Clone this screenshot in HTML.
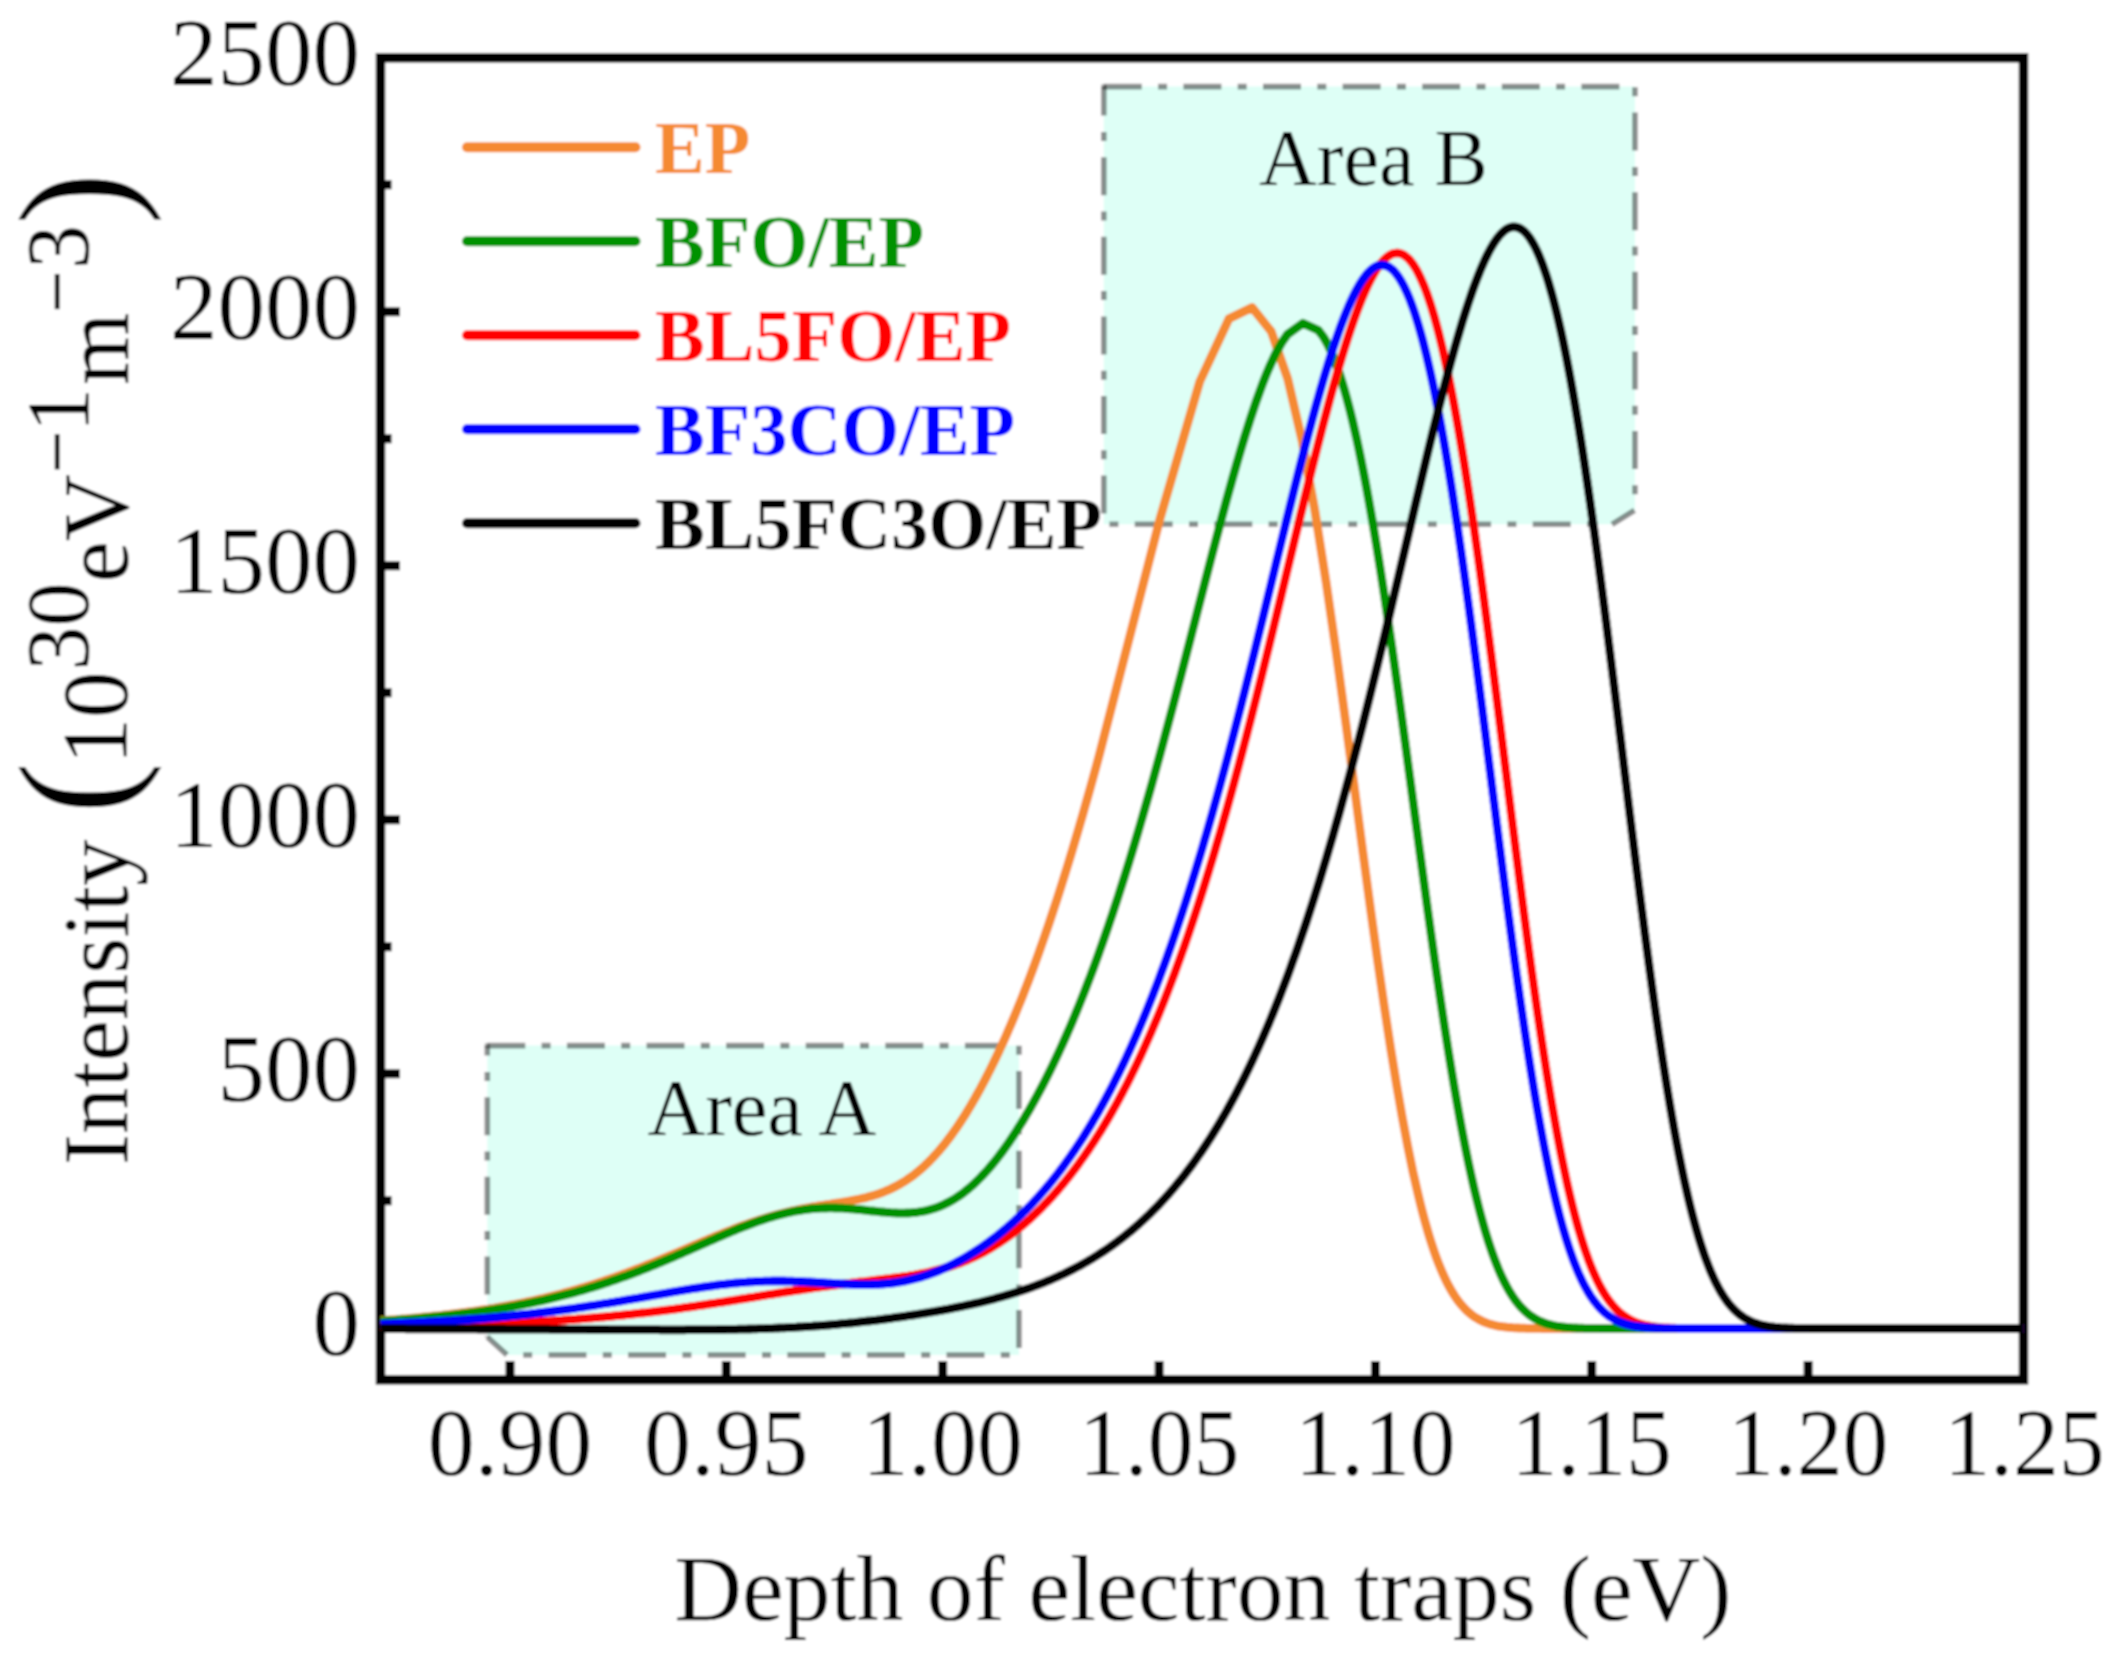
<!DOCTYPE html>
<html><head><meta charset="utf-8"><title>Trap distribution</title>
<style>
html,body{margin:0;padding:0;background:#fff;}
body{width:2120px;height:1660px;overflow:hidden;}
svg{display:block;}
text{font-family:"Liberation Serif","DejaVu Serif",serif;fill:#000;}
.tick{font-size:95px;}
.leg{font-size:74.5px;font-weight:bold;}
.area{font-size:80px;}
</style></head><body>
<svg width="2120" height="1660" viewBox="0 0 2120 1660">
<rect width="2120" height="1660" fill="#fff"/>
<defs><filter id="soft" x="0" y="0" width="2120" height="1660" filterUnits="userSpaceOnUse"><feGaussianBlur stdDeviation="0.8"/></filter><clipPath id="cp"><rect x="380.5" y="57.8" width="1643.0" height="1322.0"/></clipPath></defs>
<g filter="url(#soft)">
<rect width="2120" height="1660" fill="#fff"/>

<path d="M1103.8 86.6 H1635 V510 L1612 524.3 H1103.8 Z" fill="#DEFFF6"/>
<path d="M1103.8 86.6 H1635 V510 L1612 524.3" fill="none" stroke="#000" stroke-opacity="0.44" stroke-width="5.6" stroke-dasharray="38 16.3 9 16.3"/>
<path d="M1103.8 86.6 V524.3 H1612" fill="none" stroke="#000" stroke-opacity="0.44" stroke-width="5.6" stroke-dasharray="38 16.3 9 16.3" stroke-dashoffset="9"/>
<rect x="1101.3" y="84.1" width="5" height="5" fill="#000" fill-opacity="0.3"/>
<rect x="484.8" y="1043.1" width="5" height="5" fill="#000" fill-opacity="0.3"/>
<path d="M487.3 1045.6 H1019 V1355 H507 L487.3 1337 Z" fill="#DEFFF6"/>
<path d="M487.3 1045.6 H1019 V1355 H507 L487.3 1337" fill="none" stroke="#000" stroke-opacity="0.44" stroke-width="5.6" stroke-dasharray="38 16.3 9 16.3"/>
<path d="M487.3 1045.6 V1337" fill="none" stroke="#000" stroke-opacity="0.44" stroke-width="5.6" stroke-dasharray="38 16.3 9 16.3" stroke-dashoffset="28"/>
<text class="area" x="1259" y="185.3">Area B</text>
<text class="area" x="647.4" y="1135.4">Area A</text>
<rect x="380.5" y="57.8" width="1643.0" height="1322.0" fill="none" stroke="#000" stroke-width="9.5"/>
<path d="M380.5 1327.8 H400 M380.5 1073.8 H400 M380.5 819.8 H400 M380.5 565.8 H400 M380.5 311.8 H400 M380.5 1200.8 H391.5 M380.5 946.8 H391.5 M380.5 692.8 H391.5 M380.5 438.8 H391.5 M380.5 184.8 H391.5 M510.0 1379.8 V1361 M726.3 1379.8 V1361 M942.7 1379.8 V1361 M1159.1 1379.8 V1361 M1375.4 1379.8 V1361 M1591.7 1379.8 V1361 M1808.1 1379.8 V1361" stroke="#000" stroke-width="9" fill="none"/>
<g clip-path="url(#cp)" fill="none" stroke-width="8.8" stroke-linejoin="round">
<path d="M374.5 1321.0 L376.5 1320.9 L378.5 1320.8 L380.5 1320.6 L382.5 1320.5 L384.5 1320.4 L386.5 1320.2 L388.5 1320.1 L390.5 1319.9 L392.5 1319.8 L394.5 1319.6 L396.5 1319.5 L398.5 1319.3 L400.5 1319.2 L402.5 1319.0 L404.5 1318.8 L406.5 1318.7 L408.5 1318.5 L410.5 1318.3 L412.5 1318.1 L414.5 1318.0 L416.5 1317.8 L418.5 1317.6 L420.5 1317.4 L422.5 1317.2 L424.5 1317.0 L426.5 1316.8 L428.5 1316.6 L430.5 1316.4 L432.5 1316.2 L434.5 1316.0 L436.5 1315.8 L438.5 1315.6 L440.5 1315.4 L442.5 1315.2 L444.5 1314.9 L446.5 1314.7 L448.5 1314.5 L450.5 1314.2 L452.5 1314.0 L454.5 1313.7 L456.5 1313.5 L458.5 1313.2 L460.5 1313.0 L462.5 1312.7 L464.5 1312.5 L466.5 1312.2 L468.5 1311.9 L470.5 1311.6 L472.5 1311.4 L474.5 1311.1 L476.5 1310.8 L478.5 1310.5 L480.5 1310.2 L482.5 1309.9 L484.5 1309.6 L486.5 1309.3 L488.5 1309.0 L490.5 1308.6 L492.5 1308.3 L494.5 1308.0 L496.5 1307.6 L498.5 1307.3 L500.5 1306.9 L502.5 1306.6 L504.5 1306.2 L506.5 1305.9 L508.5 1305.5 L510.5 1305.1 L512.5 1304.7 L514.5 1304.4 L516.5 1304.0 L518.5 1303.6 L520.5 1303.2 L522.5 1302.8 L524.5 1302.4 L526.5 1301.9 L528.5 1301.5 L530.5 1301.1 L532.5 1300.7 L534.5 1300.2 L536.5 1299.8 L538.5 1299.3 L540.5 1298.9 L542.5 1298.4 L544.5 1297.9 L546.5 1297.4 L548.5 1296.9 L550.5 1296.5 L552.5 1296.0 L554.5 1295.5 L556.5 1294.9 L558.5 1294.4 L560.5 1293.9 L562.5 1293.4 L564.5 1292.8 L566.5 1292.3 L568.5 1291.7 L570.5 1291.2 L572.5 1290.6 L574.5 1290.1 L576.5 1289.5 L578.5 1288.9 L580.5 1288.3 L582.5 1287.7 L584.5 1287.1 L586.5 1286.5 L588.5 1285.9 L590.5 1285.3 L592.5 1284.6 L594.5 1284.0 L596.5 1283.3 L598.5 1282.7 L600.5 1282.0 L602.5 1281.4 L604.5 1280.7 L606.5 1280.0 L608.5 1279.3 L610.5 1278.7 L612.5 1278.0 L614.5 1277.3 L616.5 1276.5 L618.5 1275.8 L620.5 1275.1 L622.5 1274.4 L624.5 1273.6 L626.5 1272.9 L628.5 1272.2 L630.5 1271.4 L632.5 1270.7 L634.5 1269.9 L636.5 1269.1 L638.5 1268.3 L640.5 1267.6 L642.5 1266.8 L644.5 1266.0 L646.5 1265.2 L648.5 1264.4 L650.5 1263.6 L652.5 1262.8 L654.5 1262.0 L656.5 1261.2 L658.5 1260.3 L660.5 1259.5 L662.5 1258.7 L664.5 1257.8 L666.5 1257.0 L668.5 1256.2 L670.5 1255.3 L672.5 1254.5 L674.5 1253.7 L676.5 1252.8 L678.5 1252.0 L680.5 1251.1 L682.5 1250.3 L684.5 1249.4 L686.5 1248.6 L688.5 1247.7 L690.5 1246.8 L692.5 1246.0 L694.5 1245.1 L696.5 1244.3 L698.5 1243.4 L700.5 1242.6 L702.5 1241.7 L704.5 1240.9 L706.5 1240.1 L708.5 1239.2 L710.5 1238.4 L712.5 1237.5 L714.5 1236.7 L716.5 1235.9 L718.5 1235.1 L720.5 1234.3 L722.5 1233.4 L724.5 1232.6 L726.5 1231.8 L728.5 1231.0 L730.5 1230.3 L732.5 1229.5 L734.5 1228.7 L736.5 1227.9 L738.5 1227.2 L740.5 1226.4 L742.5 1225.7 L744.5 1225.0 L746.5 1224.3 L748.5 1223.5 L750.5 1222.8 L752.5 1222.2 L754.5 1221.5 L756.5 1220.8 L758.5 1220.2 L760.5 1219.5 L762.5 1218.9 L764.5 1218.3 L766.5 1217.6 L768.5 1217.0 L770.5 1216.5 L772.5 1215.9 L774.5 1215.3 L776.5 1214.8 L778.5 1214.2 L780.5 1213.7 L782.5 1213.2 L784.5 1212.7 L786.5 1212.2 L788.5 1211.7 L790.5 1211.3 L792.5 1210.8 L794.5 1210.4 L796.5 1210.0 L798.5 1209.5 L800.5 1209.1 L802.5 1208.7 L804.5 1208.4 L806.5 1208.0 L808.5 1207.6 L810.5 1207.3 L812.5 1206.9 L814.5 1206.6 L816.5 1206.3 L818.5 1205.9 L820.5 1205.6 L822.5 1205.3 L824.5 1205.0 L826.5 1204.7 L828.5 1204.4 L830.5 1204.1 L832.5 1203.7 L834.5 1203.4 L836.5 1203.1 L838.5 1202.8 L840.5 1202.5 L842.5 1202.2 L844.5 1201.8 L846.5 1201.5 L848.5 1201.2 L850.5 1200.8 L852.5 1200.4 L854.5 1200.0 L856.5 1199.6 L858.5 1199.2 L860.5 1198.8 L862.5 1198.3 L864.5 1197.9 L866.5 1197.4 L868.5 1196.8 L870.5 1196.3 L872.5 1195.7 L874.5 1195.1 L876.5 1194.5 L878.5 1193.8 L880.5 1193.1 L882.5 1192.3 L884.5 1191.6 L886.5 1190.7 L888.5 1189.9 L890.5 1189.0 L892.5 1188.0 L894.5 1187.0 L896.5 1186.0 L898.5 1184.9 L900.5 1183.8 L902.5 1182.6 L904.5 1181.4 L906.5 1180.1 L908.5 1178.7 L910.5 1177.3 L912.5 1175.9 L914.5 1174.4 L916.5 1172.8 L918.5 1171.1 L920.5 1169.5 L922.5 1167.7 L924.5 1165.9 L926.5 1164.0 L928.5 1162.1 L930.5 1160.0 L932.5 1158.0 L934.5 1155.8 L936.5 1153.6 L938.5 1151.4 L940.5 1149.0 L942.5 1146.6 L944.5 1144.2 L946.5 1141.6 L948.5 1139.0 L950.5 1136.3 L952.5 1133.6 L954.5 1130.8 L956.5 1127.9 L958.5 1125.0 L960.5 1122.0 L962.5 1118.9 L964.5 1115.8 L966.5 1112.6 L968.5 1109.3 L970.5 1106.0 L972.5 1102.6 L974.5 1099.1 L976.5 1095.5 L978.5 1091.9 L980.5 1088.3 L982.5 1084.5 L984.5 1080.7 L986.5 1076.9 L988.5 1072.9 L990.5 1069.0 L992.5 1064.9 L994.5 1060.8 L996.5 1056.6 L998.5 1052.3 L1000.5 1048.0 L1002.5 1043.6 L1004.5 1039.2 L1006.5 1034.7 L1008.5 1030.1 L1010.5 1025.5 L1012.5 1020.7 L1014.5 1016.0 L1016.5 1011.1 L1018.5 1006.2 L1020.5 1001.3 L1022.5 996.3 L1024.5 991.2 L1026.5 986.0 L1028.5 980.8 L1030.5 975.5 L1032.5 970.1 L1034.5 964.7 L1036.5 959.2 L1038.5 953.7 L1040.5 948.1 L1042.5 942.4 L1044.5 936.6 L1046.5 930.8 L1048.5 925.0 L1050.5 919.0 L1052.5 913.0 L1054.5 906.9 L1056.5 900.8 L1058.5 894.6 L1060.5 888.4 L1062.5 882.0 L1064.5 875.6 L1066.5 869.2 L1068.5 862.7 L1070.5 856.1 L1072.5 849.5 L1074.5 842.8 L1076.5 836.0 L1078.5 829.2 L1080.5 822.3 L1082.5 815.4 L1084.5 808.4 L1086.5 801.3 L1088.5 794.2 L1090.5 787.1 L1092.5 779.9 L1094.5 772.6 L1096.5 765.3 L1098.5 757.9 L1099.5 754.1 L1160.4 517.2 L1199.8 381.5 L1228.9 318.8 L1252.1 307.5 L1271.3 331.6 L1287.7 378.8 L1302.0 440.3 L1314.7 509.5 L1326.1 582.0 L1336.5 654.3 L1346.0 724.3 L1354.8 790.5 L1362.9 852.2 L1370.5 908.8 L1377.6 960.3 L1384.3 1006.6 L1390.6 1048.0 L1396.6 1084.9 L1402.3 1117.4 L1407.7 1146.1 L1412.8 1171.2 L1417.8 1193.1 L1420.5 1204.3 L1422.5 1212.2 L1424.5 1219.7 L1426.5 1226.8 L1428.5 1233.7 L1430.5 1240.2 L1432.5 1246.4 L1434.5 1252.3 L1436.5 1257.9 L1438.5 1263.2 L1440.5 1268.2 L1442.5 1272.9 L1444.5 1277.3 L1446.5 1281.5 L1448.5 1285.4 L1450.5 1289.0 L1452.5 1292.4 L1454.5 1295.6 L1456.5 1298.6 L1458.5 1301.3 L1460.5 1303.9 L1462.5 1306.2 L1464.5 1308.4 L1466.5 1310.4 L1468.5 1312.2 L1470.5 1313.9 L1472.5 1315.5 L1474.5 1316.9 L1476.5 1318.1 L1478.5 1319.3 L1480.5 1320.3 L1482.5 1321.3 L1484.5 1322.1 L1486.5 1322.9 L1488.5 1323.6 L1490.5 1324.2 L1492.5 1324.8 L1494.5 1325.2 L1496.5 1325.7 L1498.5 1326.1 L1500.5 1326.4 L1502.5 1326.7 L1504.5 1326.9 L1506.5 1327.2 L1508.5 1327.4 L1510.5 1327.5 L1512.5 1327.7 L1514.5 1327.8 L1516.5 1327.9 L1518.5 1328.0 L1520.5 1328.1 L1522.5 1328.2 L1524.5 1328.2 L1526.5 1328.3 L1528.5 1328.3 L1530.5 1328.3 L1532.5 1328.4 L1534.5 1328.4 L1536.5 1328.4 L1538.5 1328.4 L1540.5 1328.4 L1542.5 1328.5 L1544.5 1328.5 L1546.5 1328.5 L1548.5 1328.5 L1550.5 1328.5 L1552.5 1328.5 L1554.5 1328.5 L1556.5 1328.5 L1558.5 1328.5 L1560.5 1328.5 L1562.5 1328.5 L1564.5 1328.5 L1566.5 1328.5 L1568.5 1328.5 L1570.5 1328.5 L1572.5 1328.5 L1574.5 1328.5 L1576.5 1328.5 L1578.5 1328.5 L1580.5 1328.5 L1582.5 1328.5 L1584.5 1328.5 L1586.5 1328.5 L1588.5 1328.5 L1590.5 1328.5 L1592.5 1328.5 L1594.5 1328.5 L1596.5 1328.5 L1598.5 1328.5 L1600.5 1328.5 L1602.5 1328.5 L1604.5 1328.5 L1606.5 1328.5 L1608.5 1328.5 L1610.5 1328.5 L1612.5 1328.5 L1614.5 1328.5 L1616.5 1328.5 L1618.5 1328.5 L1620.5 1328.5 L1622.5 1328.5 L1624.5 1328.5 L1626.5 1328.5 L1628.5 1328.5 L1630.5 1328.5 L1632.5 1328.5 L1634.5 1328.5 L1636.5 1328.5 L1638.5 1328.5 L1640.5 1328.5 L1642.5 1328.5 L1644.5 1328.5 L1646.5 1328.5 L1648.5 1328.5 L1650.5 1328.5 L1652.5 1328.5 L1654.5 1328.5 L1656.5 1328.5 L1658.5 1328.5 L1660.5 1328.5 L1662.5 1328.5 L1664.5 1328.5 L1666.5 1328.5 L1668.5 1328.5 L1670.5 1328.5 L1672.5 1328.5 L1674.5 1328.5 L1676.5 1328.5 L1678.5 1328.5 L1680.5 1328.5 L1682.5 1328.5 L1684.5 1328.5 L1686.5 1328.5 L1688.5 1328.5 L1690.5 1328.5 L1692.5 1328.5 L1694.5 1328.5 L1696.5 1328.5 L1698.5 1328.5 L1700.5 1328.5 L1702.5 1328.5 L1704.5 1328.5 L1706.5 1328.5 L1708.5 1328.5 L1710.5 1328.5 L1712.5 1328.5 L1714.5 1328.5 L1716.5 1328.5 L1718.5 1328.5 L1720.5 1328.5 L1722.5 1328.5 L1724.5 1328.5 L1726.5 1328.5 L1728.5 1328.5 L1730.5 1328.5 L1732.5 1328.5 L1734.5 1328.5 L1736.5 1328.5 L1738.5 1328.5 L1740.5 1328.5 L1742.5 1328.5 L1744.5 1328.5 L1746.5 1328.5 L1748.5 1328.5 L1750.5 1328.5 L1752.5 1328.5 L1754.5 1328.5 L1756.5 1328.5 L1758.5 1328.5 L1760.5 1328.5 L1762.5 1328.5 L1764.5 1328.5 L1766.5 1328.5 L1768.5 1328.5 L1770.5 1328.5 L1772.5 1328.5 L1774.5 1328.5 L1776.5 1328.5 L1778.5 1328.5 L1780.5 1328.5 L1782.5 1328.5 L1784.5 1328.5 L1786.5 1328.5 L1788.5 1328.5 L1790.5 1328.5 L1792.5 1328.5 L1794.5 1328.5 L1796.5 1328.5 L1798.5 1328.5 L1800.5 1328.5 L1802.5 1328.5 L1804.5 1328.5 L1806.5 1328.5 L1808.5 1328.5 L1810.5 1328.5 L1812.5 1328.5 L1814.5 1328.5 L1816.5 1328.5 L1818.5 1328.5 L1820.5 1328.5 L1822.5 1328.5 L1824.5 1328.5 L1826.5 1328.5 L1828.5 1328.5 L1830.5 1328.5 L1832.5 1328.5 L1834.5 1328.5 L1836.5 1328.5 L1838.5 1328.5 L1840.5 1328.5 L1842.5 1328.5 L1844.5 1328.5 L1846.5 1328.5 L1848.5 1328.5 L1850.5 1328.5 L1852.5 1328.5 L1854.5 1328.5 L1856.5 1328.5 L1858.5 1328.5 L1860.5 1328.5 L1862.5 1328.5 L1864.5 1328.5 L1866.5 1328.5 L1868.5 1328.5 L1870.5 1328.5 L1872.5 1328.5 L1874.5 1328.5 L1876.5 1328.5 L1878.5 1328.5 L1880.5 1328.5 L1882.5 1328.5 L1884.5 1328.5 L1886.5 1328.5 L1888.5 1328.5 L1890.5 1328.5 L1892.5 1328.5 L1894.5 1328.5 L1896.5 1328.5 L1898.5 1328.5 L1900.5 1328.5 L1902.5 1328.5 L1904.5 1328.5 L1906.5 1328.5 L1908.5 1328.5 L1910.5 1328.5 L1912.5 1328.5 L1914.5 1328.5 L1916.5 1328.5 L1918.5 1328.5 L1920.5 1328.5 L1922.5 1328.5 L1924.5 1328.5 L1926.5 1328.5 L1928.5 1328.5 L1930.5 1328.5 L1932.5 1328.5 L1934.5 1328.5 L1936.5 1328.5 L1938.5 1328.5 L1940.5 1328.5 L1942.5 1328.5 L1944.5 1328.5 L1946.5 1328.5 L1948.5 1328.5 L1950.5 1328.5 L1952.5 1328.5 L1954.5 1328.5 L1956.5 1328.5 L1958.5 1328.5 L1960.5 1328.5 L1962.5 1328.5 L1964.5 1328.5 L1966.5 1328.5 L1968.5 1328.5 L1970.5 1328.5 L1972.5 1328.5 L1974.5 1328.5 L1976.5 1328.5 L1978.5 1328.5 L1980.5 1328.5 L1982.5 1328.5 L1984.5 1328.5 L1986.5 1328.5 L1988.5 1328.5 L1990.5 1328.5 L1992.5 1328.5 L1994.5 1328.5 L1996.5 1328.5 L1998.5 1328.5 L2000.5 1328.5 L2002.5 1328.5 L2004.5 1328.5 L2006.5 1328.5 L2008.5 1328.5 L2010.5 1328.5 L2012.5 1328.5 L2014.5 1328.5 L2016.5 1328.5 L2018.5 1328.5 L2020.5 1328.5 L2022.5 1328.5 L2024.5 1328.5 L2026.5 1328.5 L2028.5 1328.5 L2030.5 1328.5" stroke="#F58A30"/>
<path d="M374.5 1321.6 L376.5 1321.5 L378.5 1321.4 L380.5 1321.2 L382.5 1321.1 L384.5 1321.0 L386.5 1320.9 L388.5 1320.7 L390.5 1320.6 L392.5 1320.5 L394.5 1320.3 L396.5 1320.2 L398.5 1320.0 L400.5 1319.9 L402.5 1319.7 L404.5 1319.6 L406.5 1319.4 L408.5 1319.3 L410.5 1319.1 L412.5 1319.0 L414.5 1318.8 L416.5 1318.6 L418.5 1318.5 L420.5 1318.3 L422.5 1318.1 L424.5 1317.9 L426.5 1317.7 L428.5 1317.6 L430.5 1317.4 L432.5 1317.2 L434.5 1317.0 L436.5 1316.8 L438.5 1316.6 L440.5 1316.4 L442.5 1316.2 L444.5 1316.0 L446.5 1315.8 L448.5 1315.5 L450.5 1315.3 L452.5 1315.1 L454.5 1314.9 L456.5 1314.6 L458.5 1314.4 L460.5 1314.2 L462.5 1313.9 L464.5 1313.7 L466.5 1313.4 L468.5 1313.2 L470.5 1312.9 L472.5 1312.6 L474.5 1312.4 L476.5 1312.1 L478.5 1311.8 L480.5 1311.5 L482.5 1311.3 L484.5 1311.0 L486.5 1310.7 L488.5 1310.4 L490.5 1310.1 L492.5 1309.8 L494.5 1309.5 L496.5 1309.1 L498.5 1308.8 L500.5 1308.5 L502.5 1308.2 L504.5 1307.8 L506.5 1307.5 L508.5 1307.1 L510.5 1306.8 L512.5 1306.4 L514.5 1306.1 L516.5 1305.7 L518.5 1305.3 L520.5 1304.9 L522.5 1304.6 L524.5 1304.2 L526.5 1303.8 L528.5 1303.4 L530.5 1303.0 L532.5 1302.6 L534.5 1302.1 L536.5 1301.7 L538.5 1301.3 L540.5 1300.9 L542.5 1300.4 L544.5 1300.0 L546.5 1299.5 L548.5 1299.0 L550.5 1298.6 L552.5 1298.1 L554.5 1297.6 L556.5 1297.1 L558.5 1296.6 L560.5 1296.1 L562.5 1295.6 L564.5 1295.1 L566.5 1294.6 L568.5 1294.1 L570.5 1293.5 L572.5 1293.0 L574.5 1292.5 L576.5 1291.9 L578.5 1291.3 L580.5 1290.8 L582.5 1290.2 L584.5 1289.6 L586.5 1289.0 L588.5 1288.4 L590.5 1287.8 L592.5 1287.2 L594.5 1286.6 L596.5 1286.0 L598.5 1285.3 L600.5 1284.7 L602.5 1284.1 L604.5 1283.4 L606.5 1282.8 L608.5 1282.1 L610.5 1281.4 L612.5 1280.7 L614.5 1280.0 L616.5 1279.3 L618.5 1278.6 L620.5 1277.9 L622.5 1277.2 L624.5 1276.5 L626.5 1275.8 L628.5 1275.0 L630.5 1274.3 L632.5 1273.5 L634.5 1272.8 L636.5 1272.0 L638.5 1271.3 L640.5 1270.5 L642.5 1269.7 L644.5 1268.9 L646.5 1268.1 L648.5 1267.3 L650.5 1266.5 L652.5 1265.7 L654.5 1264.9 L656.5 1264.1 L658.5 1263.2 L660.5 1262.4 L662.5 1261.6 L664.5 1260.7 L666.5 1259.9 L668.5 1259.0 L670.5 1258.2 L672.5 1257.3 L674.5 1256.5 L676.5 1255.6 L678.5 1254.7 L680.5 1253.9 L682.5 1253.0 L684.5 1252.1 L686.5 1251.2 L688.5 1250.3 L690.5 1249.5 L692.5 1248.6 L694.5 1247.7 L696.5 1246.8 L698.5 1245.9 L700.5 1245.0 L702.5 1244.2 L704.5 1243.3 L706.5 1242.4 L708.5 1241.5 L710.5 1240.6 L712.5 1239.8 L714.5 1238.9 L716.5 1238.0 L718.5 1237.1 L720.5 1236.3 L722.5 1235.4 L724.5 1234.6 L726.5 1233.7 L728.5 1232.9 L730.5 1232.0 L732.5 1231.2 L734.5 1230.4 L736.5 1229.5 L738.5 1228.7 L740.5 1227.9 L742.5 1227.1 L744.5 1226.4 L746.5 1225.6 L748.5 1224.8 L750.5 1224.1 L752.5 1223.3 L754.5 1222.6 L756.5 1221.9 L758.5 1221.2 L760.5 1220.5 L762.5 1219.8 L764.5 1219.2 L766.5 1218.5 L768.5 1217.9 L770.5 1217.3 L772.5 1216.7 L774.5 1216.1 L776.5 1215.5 L778.5 1215.0 L780.5 1214.5 L782.5 1214.0 L784.5 1213.5 L786.5 1213.0 L788.5 1212.5 L790.5 1212.1 L792.5 1211.7 L794.5 1211.3 L796.5 1210.9 L798.5 1210.6 L800.5 1210.3 L802.5 1210.0 L804.5 1209.7 L806.5 1209.4 L808.5 1209.2 L810.5 1208.9 L812.5 1208.7 L814.5 1208.6 L816.5 1208.4 L818.5 1208.3 L820.5 1208.2 L822.5 1208.1 L824.5 1208.0 L826.5 1208.0 L828.5 1207.9 L830.5 1207.9 L832.5 1207.9 L834.5 1208.0 L836.5 1208.0 L838.5 1208.1 L840.5 1208.1 L842.5 1208.2 L844.5 1208.3 L846.5 1208.5 L848.5 1208.6 L850.5 1208.8 L852.5 1208.9 L854.5 1209.1 L856.5 1209.3 L858.5 1209.5 L860.5 1209.7 L862.5 1209.9 L864.5 1210.1 L866.5 1210.3 L868.5 1210.6 L870.5 1210.8 L872.5 1211.0 L874.5 1211.2 L876.5 1211.4 L878.5 1211.6 L880.5 1211.8 L882.5 1212.0 L884.5 1212.2 L886.5 1212.4 L888.5 1212.5 L890.5 1212.7 L892.5 1212.8 L894.5 1212.9 L896.5 1213.0 L898.5 1213.1 L900.5 1213.1 L902.5 1213.1 L904.5 1213.1 L906.5 1213.0 L908.5 1213.0 L910.5 1212.9 L912.5 1212.7 L914.5 1212.5 L916.5 1212.3 L918.5 1212.0 L920.5 1211.7 L922.5 1211.4 L924.5 1211.0 L926.5 1210.6 L928.5 1210.1 L930.5 1209.5 L932.5 1208.9 L934.5 1208.3 L936.5 1207.6 L938.5 1206.9 L940.5 1206.1 L942.5 1205.2 L944.5 1204.3 L946.5 1203.3 L948.5 1202.3 L950.5 1201.2 L952.5 1200.1 L954.5 1198.9 L956.5 1197.6 L958.5 1196.3 L960.5 1194.9 L962.5 1193.4 L964.5 1191.9 L966.5 1190.3 L968.5 1188.7 L970.5 1187.0 L972.5 1185.2 L974.5 1183.4 L976.5 1181.5 L978.5 1179.5 L980.5 1177.5 L982.5 1175.4 L984.5 1173.3 L986.5 1171.1 L988.5 1168.8 L990.5 1166.5 L992.5 1164.1 L994.5 1161.7 L996.5 1159.2 L998.5 1156.6 L1000.5 1154.0 L1002.5 1151.3 L1004.5 1148.6 L1006.5 1145.8 L1008.5 1142.9 L1010.5 1140.0 L1012.5 1137.0 L1014.5 1134.0 L1016.5 1130.9 L1018.5 1127.7 L1020.5 1124.5 L1022.5 1121.3 L1024.5 1118.0 L1026.5 1114.6 L1028.5 1111.2 L1030.5 1107.7 L1032.5 1104.1 L1034.5 1100.5 L1036.5 1096.9 L1038.5 1093.2 L1040.5 1089.4 L1042.5 1085.6 L1044.5 1081.7 L1046.5 1077.7 L1048.5 1073.7 L1050.5 1069.7 L1052.5 1065.6 L1054.5 1061.4 L1056.5 1057.2 L1058.5 1052.9 L1060.5 1048.5 L1062.5 1044.1 L1064.5 1039.6 L1066.5 1035.1 L1068.5 1030.5 L1070.5 1025.9 L1072.5 1021.2 L1074.5 1016.4 L1076.5 1011.5 L1078.5 1006.6 L1080.5 1001.7 L1082.5 996.7 L1084.5 991.6 L1086.5 986.4 L1088.5 981.2 L1090.5 976.0 L1092.5 970.6 L1094.5 965.2 L1096.5 959.8 L1098.5 954.2 L1100.5 948.6 L1102.5 943.0 L1104.5 937.3 L1106.5 931.5 L1108.5 925.6 L1110.5 919.7 L1112.5 913.8 L1114.5 907.7 L1116.5 901.6 L1118.5 895.5 L1120.5 889.2 L1122.5 882.9 L1124.5 876.6 L1126.5 870.2 L1128.5 863.7 L1130.5 857.2 L1132.5 850.6 L1134.5 843.9 L1136.5 837.2 L1138.5 830.5 L1140.5 823.6 L1142.5 816.8 L1144.5 809.8 L1146.5 802.8 L1148.5 795.8 L1150.5 788.7 L1152.5 781.6 L1154.5 774.4 L1156.5 767.1 L1158.5 759.8 L1160.5 752.5 L1162.5 745.1 L1164.5 737.7 L1166.5 730.2 L1168.5 722.7 L1170.5 715.2 L1172.5 707.6 L1174.5 700.0 L1176.5 692.4 L1178.5 684.7 L1180.5 677.1 L1182.5 669.3 L1184.5 661.6 L1186.5 653.9 L1188.5 646.1 L1190.5 638.3 L1192.5 630.5 L1194.5 622.8 L1196.5 615.0 L1198.5 607.2 L1200.5 599.4 L1202.5 591.6 L1204.5 583.8 L1206.5 576.1 L1208.5 568.3 L1210.5 560.6 L1212.5 552.9 L1214.5 545.3 L1216.5 537.7 L1218.5 530.1 L1220.5 522.5 L1222.5 515.0 L1224.5 507.6 L1226.5 500.2 L1228.5 492.9 L1230.5 485.7 L1232.5 478.5 L1234.5 471.5 L1236.5 464.5 L1238.5 457.6 L1240.5 450.7 L1242.5 444.0 L1244.5 437.4 L1246.5 431.0 L1248.5 424.6 L1250.5 418.4 L1252.5 412.3 L1254.5 406.3 L1256.5 400.5 L1258.5 394.9 L1260.5 389.4 L1262.5 384.0 L1264.5 378.9 L1266.5 373.9 L1268.5 369.1 L1270.5 364.6 L1272.5 360.2 L1274.5 356.0 L1276.5 352.0 L1278.5 348.3 L1280.5 344.8 L1282.5 341.5 L1287.5 334.4 L1302.9 323.2 L1318.3 330.2 L1322.5 335.6 L1324.5 338.7 L1326.5 342.2 L1328.5 346.1 L1330.5 350.3 L1332.5 354.8 L1334.5 359.8 L1336.5 365.1 L1338.5 370.7 L1340.5 376.8 L1342.5 383.2 L1344.5 389.9 L1346.5 397.1 L1348.5 404.6 L1350.5 412.4 L1352.5 420.6 L1354.5 429.2 L1356.5 438.1 L1358.5 447.4 L1360.5 457.0 L1362.5 467.0 L1364.5 477.2 L1366.5 487.8 L1368.5 498.8 L1370.5 510.0 L1372.5 521.5 L1374.5 533.3 L1376.5 545.4 L1378.5 557.8 L1380.5 570.4 L1382.5 583.3 L1384.5 596.4 L1386.5 609.8 L1388.5 623.3 L1390.5 637.1 L1392.5 651.0 L1394.5 665.1 L1396.5 679.4 L1398.5 693.7 L1400.5 708.3 L1402.5 722.9 L1404.5 737.6 L1406.5 752.4 L1408.5 767.3 L1410.5 782.2 L1412.5 797.1 L1414.5 812.1 L1416.5 827.0 L1418.5 842.0 L1420.5 856.8 L1422.5 871.7 L1424.5 886.4 L1426.5 901.1 L1428.5 915.6 L1430.5 930.0 L1432.5 944.3 L1434.5 958.5 L1436.5 972.4 L1438.5 986.2 L1440.5 999.8 L1442.5 1013.2 L1444.5 1026.3 L1446.5 1039.2 L1448.5 1051.9 L1450.5 1064.3 L1452.5 1076.4 L1454.5 1088.3 L1456.5 1099.8 L1458.5 1111.1 L1460.5 1122.1 L1462.5 1132.7 L1464.5 1143.1 L1466.5 1153.1 L1468.5 1162.8 L1470.5 1172.2 L1472.5 1181.2 L1474.5 1189.9 L1476.5 1198.3 L1478.5 1206.3 L1480.5 1214.0 L1482.5 1221.4 L1484.5 1228.5 L1486.5 1235.2 L1488.5 1241.6 L1490.5 1247.7 L1492.5 1253.5 L1494.5 1259.0 L1496.5 1264.2 L1498.5 1269.2 L1500.5 1273.8 L1502.5 1278.1 L1504.5 1282.2 L1506.5 1286.1 L1508.5 1289.7 L1510.5 1293.0 L1512.5 1296.2 L1514.5 1299.1 L1516.5 1301.8 L1518.5 1304.3 L1520.5 1306.6 L1522.5 1308.7 L1524.5 1310.7 L1526.5 1312.5 L1528.5 1314.2 L1530.5 1315.7 L1532.5 1317.0 L1534.5 1318.3 L1536.5 1319.4 L1538.5 1320.5 L1540.5 1321.4 L1542.5 1322.2 L1544.5 1323.0 L1546.5 1323.7 L1548.5 1324.3 L1550.5 1324.8 L1552.5 1325.3 L1554.5 1325.7 L1556.5 1326.1 L1558.5 1326.4 L1560.5 1326.7 L1562.5 1327.0 L1564.5 1327.2 L1566.5 1327.4 L1568.5 1327.6 L1570.5 1327.7 L1572.5 1327.8 L1574.5 1327.9 L1576.5 1328.0 L1578.5 1328.1 L1580.5 1328.2 L1582.5 1328.2 L1584.5 1328.3 L1586.5 1328.3 L1588.5 1328.3 L1590.5 1328.4 L1592.5 1328.4 L1594.5 1328.4 L1596.5 1328.4 L1598.5 1328.4 L1600.5 1328.5 L1602.5 1328.5 L1604.5 1328.5 L1606.5 1328.5 L1608.5 1328.5 L1610.5 1328.5 L1612.5 1328.5 L1614.5 1328.5 L1616.5 1328.5 L1618.5 1328.5 L1620.5 1328.5 L1622.5 1328.5 L1624.5 1328.5 L1626.5 1328.5 L1628.5 1328.5 L1630.5 1328.5 L1632.5 1328.5 L1634.5 1328.5 L1636.5 1328.5 L1638.5 1328.5 L1640.5 1328.5 L1642.5 1328.5 L1644.5 1328.5 L1646.5 1328.5 L1648.5 1328.5 L1650.5 1328.5 L1652.5 1328.5 L1654.5 1328.5 L1656.5 1328.5 L1658.5 1328.5 L1660.5 1328.5 L1662.5 1328.5 L1664.5 1328.5 L1666.5 1328.5 L1668.5 1328.5 L1670.5 1328.5 L1672.5 1328.5 L1674.5 1328.5 L1676.5 1328.5 L1678.5 1328.5 L1680.5 1328.5 L1682.5 1328.5 L1684.5 1328.5 L1686.5 1328.5 L1688.5 1328.5 L1690.5 1328.5 L1692.5 1328.5 L1694.5 1328.5 L1696.5 1328.5 L1698.5 1328.5 L1700.5 1328.5 L1702.5 1328.5 L1704.5 1328.5 L1706.5 1328.5 L1708.5 1328.5 L1710.5 1328.5 L1712.5 1328.5 L1714.5 1328.5 L1716.5 1328.5 L1718.5 1328.5 L1720.5 1328.5 L1722.5 1328.5 L1724.5 1328.5 L1726.5 1328.5 L1728.5 1328.5 L1730.5 1328.5 L1732.5 1328.5 L1734.5 1328.5 L1736.5 1328.5 L1738.5 1328.5 L1740.5 1328.5 L1742.5 1328.5 L1744.5 1328.5 L1746.5 1328.5 L1748.5 1328.5 L1750.5 1328.5 L1752.5 1328.5 L1754.5 1328.5 L1756.5 1328.5 L1758.5 1328.5 L1760.5 1328.5 L1762.5 1328.5 L1764.5 1328.5 L1766.5 1328.5 L1768.5 1328.5 L1770.5 1328.5 L1772.5 1328.5 L1774.5 1328.5 L1776.5 1328.5 L1778.5 1328.5 L1780.5 1328.5 L1782.5 1328.5 L1784.5 1328.5 L1786.5 1328.5 L1788.5 1328.5 L1790.5 1328.5 L1792.5 1328.5 L1794.5 1328.5 L1796.5 1328.5 L1798.5 1328.5 L1800.5 1328.5 L1802.5 1328.5 L1804.5 1328.5 L1806.5 1328.5 L1808.5 1328.5 L1810.5 1328.5 L1812.5 1328.5 L1814.5 1328.5 L1816.5 1328.5 L1818.5 1328.5 L1820.5 1328.5 L1822.5 1328.5 L1824.5 1328.5 L1826.5 1328.5 L1828.5 1328.5 L1830.5 1328.5 L1832.5 1328.5 L1834.5 1328.5 L1836.5 1328.5 L1838.5 1328.5 L1840.5 1328.5 L1842.5 1328.5 L1844.5 1328.5 L1846.5 1328.5 L1848.5 1328.5 L1850.5 1328.5 L1852.5 1328.5 L1854.5 1328.5 L1856.5 1328.5 L1858.5 1328.5 L1860.5 1328.5 L1862.5 1328.5 L1864.5 1328.5 L1866.5 1328.5 L1868.5 1328.5 L1870.5 1328.5 L1872.5 1328.5 L1874.5 1328.5 L1876.5 1328.5 L1878.5 1328.5 L1880.5 1328.5 L1882.5 1328.5 L1884.5 1328.5 L1886.5 1328.5 L1888.5 1328.5 L1890.5 1328.5 L1892.5 1328.5 L1894.5 1328.5 L1896.5 1328.5 L1898.5 1328.5 L1900.5 1328.5 L1902.5 1328.5 L1904.5 1328.5 L1906.5 1328.5 L1908.5 1328.5 L1910.5 1328.5 L1912.5 1328.5 L1914.5 1328.5 L1916.5 1328.5 L1918.5 1328.5 L1920.5 1328.5 L1922.5 1328.5 L1924.5 1328.5 L1926.5 1328.5 L1928.5 1328.5 L1930.5 1328.5 L1932.5 1328.5 L1934.5 1328.5 L1936.5 1328.5 L1938.5 1328.5 L1940.5 1328.5 L1942.5 1328.5 L1944.5 1328.5 L1946.5 1328.5 L1948.5 1328.5 L1950.5 1328.5 L1952.5 1328.5 L1954.5 1328.5 L1956.5 1328.5 L1958.5 1328.5 L1960.5 1328.5 L1962.5 1328.5 L1964.5 1328.5 L1966.5 1328.5 L1968.5 1328.5 L1970.5 1328.5 L1972.5 1328.5 L1974.5 1328.5 L1976.5 1328.5 L1978.5 1328.5 L1980.5 1328.5 L1982.5 1328.5 L1984.5 1328.5 L1986.5 1328.5 L1988.5 1328.5 L1990.5 1328.5 L1992.5 1328.5 L1994.5 1328.5 L1996.5 1328.5 L1998.5 1328.5 L2000.5 1328.5 L2002.5 1328.5 L2004.5 1328.5 L2006.5 1328.5 L2008.5 1328.5 L2010.5 1328.5 L2012.5 1328.5 L2014.5 1328.5 L2016.5 1328.5 L2018.5 1328.5 L2020.5 1328.5 L2022.5 1328.5 L2024.5 1328.5 L2026.5 1328.5 L2028.5 1328.5 L2030.5 1328.5" stroke="#009200"/>
<path d="M374.5 1326.8 L376.5 1326.8 L378.5 1326.7 L380.5 1326.7 L382.5 1326.7 L384.5 1326.6 L386.5 1326.6 L388.5 1326.6 L390.5 1326.5 L392.5 1326.5 L394.5 1326.5 L396.5 1326.4 L398.5 1326.4 L400.5 1326.4 L402.5 1326.3 L404.5 1326.3 L406.5 1326.3 L408.5 1326.2 L410.5 1326.2 L412.5 1326.1 L414.5 1326.1 L416.5 1326.1 L418.5 1326.0 L420.5 1326.0 L422.5 1325.9 L424.5 1325.9 L426.5 1325.8 L428.5 1325.8 L430.5 1325.7 L432.5 1325.7 L434.5 1325.6 L436.5 1325.6 L438.5 1325.5 L440.5 1325.5 L442.5 1325.4 L444.5 1325.4 L446.5 1325.3 L448.5 1325.3 L450.5 1325.2 L452.5 1325.2 L454.5 1325.1 L456.5 1325.1 L458.5 1325.0 L460.5 1324.9 L462.5 1324.9 L464.5 1324.8 L466.5 1324.7 L468.5 1324.7 L470.5 1324.6 L472.5 1324.6 L474.5 1324.5 L476.5 1324.4 L478.5 1324.3 L480.5 1324.3 L482.5 1324.2 L484.5 1324.1 L486.5 1324.1 L488.5 1324.0 L490.5 1323.9 L492.5 1323.8 L494.5 1323.7 L496.5 1323.7 L498.5 1323.6 L500.5 1323.5 L502.5 1323.4 L504.5 1323.3 L506.5 1323.2 L508.5 1323.2 L510.5 1323.1 L512.5 1323.0 L514.5 1322.9 L516.5 1322.8 L518.5 1322.7 L520.5 1322.6 L522.5 1322.5 L524.5 1322.4 L526.5 1322.3 L528.5 1322.2 L530.5 1322.1 L532.5 1322.0 L534.5 1321.9 L536.5 1321.8 L538.5 1321.6 L540.5 1321.5 L542.5 1321.4 L544.5 1321.3 L546.5 1321.2 L548.5 1321.1 L550.5 1320.9 L552.5 1320.8 L554.5 1320.7 L556.5 1320.6 L558.5 1320.4 L560.5 1320.3 L562.5 1320.2 L564.5 1320.0 L566.5 1319.9 L568.5 1319.7 L570.5 1319.6 L572.5 1319.5 L574.5 1319.3 L576.5 1319.2 L578.5 1319.0 L580.5 1318.9 L582.5 1318.7 L584.5 1318.6 L586.5 1318.4 L588.5 1318.2 L590.5 1318.1 L592.5 1317.9 L594.5 1317.7 L596.5 1317.6 L598.5 1317.4 L600.5 1317.2 L602.5 1317.1 L604.5 1316.9 L606.5 1316.7 L608.5 1316.5 L610.5 1316.3 L612.5 1316.1 L614.5 1315.9 L616.5 1315.7 L618.5 1315.6 L620.5 1315.4 L622.5 1315.2 L624.5 1315.0 L626.5 1314.7 L628.5 1314.5 L630.5 1314.3 L632.5 1314.1 L634.5 1313.9 L636.5 1313.7 L638.5 1313.5 L640.5 1313.2 L642.5 1313.0 L644.5 1312.8 L646.5 1312.6 L648.5 1312.3 L650.5 1312.1 L652.5 1311.9 L654.5 1311.6 L656.5 1311.4 L658.5 1311.1 L660.5 1310.9 L662.5 1310.6 L664.5 1310.4 L666.5 1310.1 L668.5 1309.9 L670.5 1309.6 L672.5 1309.3 L674.5 1309.1 L676.5 1308.8 L678.5 1308.5 L680.5 1308.3 L682.5 1308.0 L684.5 1307.7 L686.5 1307.4 L688.5 1307.2 L690.5 1306.9 L692.5 1306.6 L694.5 1306.3 L696.5 1306.0 L698.5 1305.7 L700.5 1305.4 L702.5 1305.1 L704.5 1304.8 L706.5 1304.5 L708.5 1304.2 L710.5 1303.9 L712.5 1303.6 L714.5 1303.3 L716.5 1303.0 L718.5 1302.7 L720.5 1302.4 L722.5 1302.1 L724.5 1301.8 L726.5 1301.4 L728.5 1301.1 L730.5 1300.8 L732.5 1300.5 L734.5 1300.2 L736.5 1299.9 L738.5 1299.5 L740.5 1299.2 L742.5 1298.9 L744.5 1298.6 L746.5 1298.3 L748.5 1297.9 L750.5 1297.6 L752.5 1297.3 L754.5 1297.0 L756.5 1296.6 L758.5 1296.3 L760.5 1296.0 L762.5 1295.7 L764.5 1295.3 L766.5 1295.0 L768.5 1294.7 L770.5 1294.4 L772.5 1294.1 L774.5 1293.8 L776.5 1293.4 L778.5 1293.1 L780.5 1292.8 L782.5 1292.5 L784.5 1292.2 L786.5 1291.9 L788.5 1291.6 L790.5 1291.3 L792.5 1291.0 L794.5 1290.6 L796.5 1290.3 L798.5 1290.0 L800.5 1289.8 L802.5 1289.5 L804.5 1289.2 L806.5 1288.9 L808.5 1288.6 L810.5 1288.3 L812.5 1288.0 L814.5 1287.7 L816.5 1287.5 L818.5 1287.2 L820.5 1286.9 L822.5 1286.7 L824.5 1286.4 L826.5 1286.1 L828.5 1285.9 L830.5 1285.6 L832.5 1285.4 L834.5 1285.1 L836.5 1284.8 L838.5 1284.6 L840.5 1284.4 L842.5 1284.1 L844.5 1283.9 L846.5 1283.6 L848.5 1283.4 L850.5 1283.2 L852.5 1282.9 L854.5 1282.7 L856.5 1282.5 L858.5 1282.2 L860.5 1282.0 L862.5 1281.8 L864.5 1281.6 L866.5 1281.3 L868.5 1281.1 L870.5 1280.9 L872.5 1280.6 L874.5 1280.4 L876.5 1280.2 L878.5 1280.0 L880.5 1279.7 L882.5 1279.5 L884.5 1279.2 L886.5 1279.0 L888.5 1278.8 L890.5 1278.5 L892.5 1278.2 L894.5 1278.0 L896.5 1277.7 L898.5 1277.4 L900.5 1277.2 L902.5 1276.9 L904.5 1276.6 L906.5 1276.3 L908.5 1276.0 L910.5 1275.6 L912.5 1275.3 L914.5 1275.0 L916.5 1274.6 L918.5 1274.3 L920.5 1273.9 L922.5 1273.5 L924.5 1273.1 L926.5 1272.7 L928.5 1272.2 L930.5 1271.8 L932.5 1271.3 L934.5 1270.8 L936.5 1270.3 L938.5 1269.8 L940.5 1269.3 L942.5 1268.7 L944.5 1268.1 L946.5 1267.6 L948.5 1266.9 L950.5 1266.3 L952.5 1265.6 L954.5 1265.0 L956.5 1264.2 L958.5 1263.5 L960.5 1262.8 L962.5 1262.0 L964.5 1261.2 L966.5 1260.4 L968.5 1259.5 L970.5 1258.6 L972.5 1257.7 L974.5 1256.8 L976.5 1255.8 L978.5 1254.8 L980.5 1253.8 L982.5 1252.7 L984.5 1251.7 L986.5 1250.6 L988.5 1249.4 L990.5 1248.3 L992.5 1247.1 L994.5 1245.8 L996.5 1244.6 L998.5 1243.3 L1000.5 1242.0 L1002.5 1240.6 L1004.5 1239.3 L1006.5 1237.8 L1008.5 1236.4 L1010.5 1234.9 L1012.5 1233.4 L1014.5 1231.9 L1016.5 1230.3 L1018.5 1228.7 L1020.5 1227.0 L1022.5 1225.4 L1024.5 1223.7 L1026.5 1221.9 L1028.5 1220.2 L1030.5 1218.4 L1032.5 1216.5 L1034.5 1214.6 L1036.5 1212.7 L1038.5 1210.8 L1040.5 1208.8 L1042.5 1206.8 L1044.5 1204.7 L1046.5 1202.7 L1048.5 1200.5 L1050.5 1198.4 L1052.5 1196.2 L1054.5 1193.9 L1056.5 1191.7 L1058.5 1189.4 L1060.5 1187.0 L1062.5 1184.6 L1064.5 1182.2 L1066.5 1179.7 L1068.5 1177.2 L1070.5 1174.7 L1072.5 1172.1 L1074.5 1169.5 L1076.5 1166.8 L1078.5 1164.1 L1080.5 1161.3 L1082.5 1158.5 L1084.5 1155.7 L1086.5 1152.8 L1088.5 1149.9 L1090.5 1146.9 L1092.5 1143.9 L1094.5 1140.8 L1096.5 1137.7 L1098.5 1134.5 L1100.5 1131.3 L1102.5 1128.1 L1104.5 1124.7 L1106.5 1121.4 L1108.5 1118.0 L1110.5 1114.5 L1112.5 1111.0 L1114.5 1107.4 L1116.5 1103.8 L1118.5 1100.1 L1120.5 1096.4 L1122.5 1092.6 L1124.5 1088.8 L1126.5 1084.9 L1128.5 1081.0 L1130.5 1077.0 L1132.5 1072.9 L1134.5 1068.8 L1136.5 1064.6 L1138.5 1060.4 L1140.5 1056.1 L1142.5 1051.7 L1144.5 1047.3 L1146.5 1042.8 L1148.5 1038.3 L1150.5 1033.7 L1152.5 1029.1 L1154.5 1024.3 L1156.5 1019.5 L1158.5 1014.7 L1160.5 1009.8 L1162.5 1004.8 L1164.5 999.8 L1166.5 994.7 L1168.5 989.5 L1170.5 984.2 L1172.5 978.9 L1174.5 973.6 L1176.5 968.1 L1178.5 962.6 L1180.5 957.1 L1182.5 951.4 L1184.5 945.7 L1186.5 939.9 L1188.5 934.1 L1190.5 928.2 L1192.5 922.2 L1194.5 916.1 L1196.5 910.0 L1198.5 903.8 L1200.5 897.6 L1202.5 891.3 L1204.5 884.9 L1206.5 878.4 L1208.5 871.9 L1210.5 865.3 L1212.5 858.7 L1214.5 851.9 L1216.5 845.1 L1218.5 838.3 L1220.5 831.4 L1222.5 824.4 L1224.5 817.3 L1226.5 810.2 L1228.5 803.0 L1230.5 795.8 L1232.5 788.5 L1234.5 781.1 L1236.5 773.7 L1238.5 766.3 L1240.5 758.7 L1242.5 751.1 L1244.5 743.5 L1246.5 735.8 L1248.5 728.0 L1250.5 720.3 L1252.5 712.4 L1254.5 704.5 L1256.5 696.6 L1258.5 688.6 L1260.5 680.6 L1262.5 672.5 L1264.5 664.4 L1266.5 656.3 L1268.5 648.1 L1270.5 639.9 L1272.5 631.7 L1274.5 623.5 L1276.5 615.2 L1278.5 606.9 L1280.5 598.6 L1282.5 590.3 L1284.5 582.0 L1286.5 573.6 L1288.5 565.3 L1290.5 556.9 L1292.5 548.6 L1294.5 540.3 L1296.5 532.0 L1298.5 523.7 L1300.5 515.4 L1302.5 507.2 L1304.5 498.9 L1306.5 490.7 L1308.5 482.6 L1310.5 474.5 L1312.5 466.4 L1314.5 458.4 L1316.5 450.5 L1318.5 442.6 L1320.5 434.8 L1322.5 427.0 L1324.5 419.4 L1326.5 411.8 L1328.5 404.3 L1330.5 396.9 L1332.5 389.6 L1334.5 382.5 L1336.5 375.4 L1338.5 368.5 L1340.5 361.7 L1342.5 355.0 L1344.5 348.5 L1346.5 342.1 L1348.5 335.9 L1350.5 329.9 L1352.5 324.0 L1354.5 318.3 L1356.5 312.8 L1358.5 307.5 L1360.5 302.4 L1362.5 297.4 L1364.5 292.8 L1366.5 288.3 L1368.5 284.0 L1370.5 280.0 L1372.5 276.3 L1374.5 272.8 L1376.5 269.5 L1378.5 266.6 L1380.5 263.9 L1382.5 261.5 L1384.5 259.3 L1386.5 257.5 L1388.5 256.0 L1390.5 254.7 L1392.5 253.8 L1394.5 253.3 L1396.5 253.0 L1398.5 253.1 L1400.5 253.5 L1402.5 254.3 L1404.5 255.4 L1406.5 256.9 L1408.5 258.7 L1410.5 261.0 L1412.5 263.5 L1414.5 266.5 L1416.5 269.8 L1418.5 273.6 L1420.5 277.7 L1422.5 282.2 L1424.5 287.0 L1426.5 292.3 L1428.5 298.0 L1430.5 304.0 L1432.5 310.5 L1434.5 317.3 L1436.5 324.6 L1438.5 332.2 L1440.5 340.2 L1442.5 348.6 L1444.5 357.4 L1446.5 366.6 L1448.5 376.1 L1450.5 386.1 L1452.5 396.3 L1454.5 407.0 L1456.5 418.0 L1458.5 429.3 L1460.5 441.0 L1462.5 453.0 L1464.5 465.3 L1466.5 478.0 L1468.5 490.9 L1470.5 504.2 L1472.5 517.7 L1474.5 531.4 L1476.5 545.5 L1478.5 559.7 L1480.5 574.2 L1482.5 588.9 L1484.5 603.8 L1486.5 618.9 L1488.5 634.2 L1490.5 649.6 L1492.5 665.1 L1494.5 680.7 L1496.5 696.5 L1498.5 712.3 L1500.5 728.2 L1502.5 744.2 L1504.5 760.2 L1506.5 776.1 L1508.5 792.1 L1510.5 808.1 L1512.5 824.0 L1514.5 839.8 L1516.5 855.6 L1518.5 871.3 L1520.5 886.9 L1522.5 902.3 L1524.5 917.6 L1526.5 932.7 L1528.5 947.6 L1530.5 962.4 L1532.5 976.9 L1534.5 991.2 L1536.5 1005.3 L1538.5 1019.1 L1540.5 1032.6 L1542.5 1045.9 L1544.5 1058.9 L1546.5 1071.6 L1548.5 1083.9 L1550.5 1096.0 L1552.5 1107.7 L1554.5 1119.1 L1556.5 1130.2 L1558.5 1140.9 L1560.5 1151.3 L1562.5 1161.3 L1564.5 1170.9 L1566.5 1180.3 L1568.5 1189.2 L1570.5 1197.8 L1572.5 1206.1 L1574.5 1214.0 L1576.5 1221.5 L1578.5 1228.7 L1580.5 1235.6 L1582.5 1242.1 L1584.5 1248.3 L1586.5 1254.2 L1588.5 1259.8 L1590.5 1265.0 L1592.5 1270.0 L1594.5 1274.6 L1596.5 1279.0 L1598.5 1283.1 L1600.5 1287.0 L1602.5 1290.6 L1604.5 1293.9 L1606.5 1297.0 L1608.5 1299.9 L1610.5 1302.6 L1612.5 1305.1 L1614.5 1307.3 L1616.5 1309.5 L1618.5 1311.4 L1620.5 1313.2 L1622.5 1314.8 L1624.5 1316.2 L1626.5 1317.6 L1628.5 1318.8 L1630.5 1319.9 L1632.5 1320.9 L1634.5 1321.8 L1636.5 1322.6 L1638.5 1323.3 L1640.5 1324.0 L1642.5 1324.6 L1644.5 1325.1 L1646.5 1325.5 L1648.5 1325.9 L1650.5 1326.3 L1652.5 1326.6 L1654.5 1326.9 L1656.5 1327.1 L1658.5 1327.3 L1660.5 1327.5 L1662.5 1327.6 L1664.5 1327.8 L1666.5 1327.9 L1668.5 1328.0 L1670.5 1328.1 L1672.5 1328.1 L1674.5 1328.2 L1676.5 1328.3 L1678.5 1328.3 L1680.5 1328.3 L1682.5 1328.4 L1684.5 1328.4 L1686.5 1328.4 L1688.5 1328.4 L1690.5 1328.4 L1692.5 1328.5 L1694.5 1328.5 L1696.5 1328.5 L1698.5 1328.5 L1700.5 1328.5 L1702.5 1328.5 L1704.5 1328.5 L1706.5 1328.5 L1708.5 1328.5 L1710.5 1328.5 L1712.5 1328.5 L1714.5 1328.5 L1716.5 1328.5 L1718.5 1328.5 L1720.5 1328.5 L1722.5 1328.5 L1724.5 1328.5 L1726.5 1328.5 L1728.5 1328.5 L1730.5 1328.5 L1732.5 1328.5 L1734.5 1328.5 L1736.5 1328.5 L1738.5 1328.5 L1740.5 1328.5 L1742.5 1328.5 L1744.5 1328.5 L1746.5 1328.5 L1748.5 1328.5 L1750.5 1328.5 L1752.5 1328.5 L1754.5 1328.5 L1756.5 1328.5 L1758.5 1328.5 L1760.5 1328.5 L1762.5 1328.5 L1764.5 1328.5 L1766.5 1328.5 L1768.5 1328.5 L1770.5 1328.5 L1772.5 1328.5 L1774.5 1328.5 L1776.5 1328.5 L1778.5 1328.5 L1780.5 1328.5 L1782.5 1328.5 L1784.5 1328.5 L1786.5 1328.5 L1788.5 1328.5 L1790.5 1328.5 L1792.5 1328.5 L1794.5 1328.5 L1796.5 1328.5 L1798.5 1328.5 L1800.5 1328.5 L1802.5 1328.5 L1804.5 1328.5 L1806.5 1328.5 L1808.5 1328.5 L1810.5 1328.5 L1812.5 1328.5 L1814.5 1328.5 L1816.5 1328.5 L1818.5 1328.5 L1820.5 1328.5 L1822.5 1328.5 L1824.5 1328.5 L1826.5 1328.5 L1828.5 1328.5 L1830.5 1328.5 L1832.5 1328.5 L1834.5 1328.5 L1836.5 1328.5 L1838.5 1328.5 L1840.5 1328.5 L1842.5 1328.5 L1844.5 1328.5 L1846.5 1328.5 L1848.5 1328.5 L1850.5 1328.5 L1852.5 1328.5 L1854.5 1328.5 L1856.5 1328.5 L1858.5 1328.5 L1860.5 1328.5 L1862.5 1328.5 L1864.5 1328.5 L1866.5 1328.5 L1868.5 1328.5 L1870.5 1328.5 L1872.5 1328.5 L1874.5 1328.5 L1876.5 1328.5 L1878.5 1328.5 L1880.5 1328.5 L1882.5 1328.5 L1884.5 1328.5 L1886.5 1328.5 L1888.5 1328.5 L1890.5 1328.5 L1892.5 1328.5 L1894.5 1328.5 L1896.5 1328.5 L1898.5 1328.5 L1900.5 1328.5 L1902.5 1328.5 L1904.5 1328.5 L1906.5 1328.5 L1908.5 1328.5 L1910.5 1328.5 L1912.5 1328.5 L1914.5 1328.5 L1916.5 1328.5 L1918.5 1328.5 L1920.5 1328.5 L1922.5 1328.5 L1924.5 1328.5 L1926.5 1328.5 L1928.5 1328.5 L1930.5 1328.5 L1932.5 1328.5 L1934.5 1328.5 L1936.5 1328.5 L1938.5 1328.5 L1940.5 1328.5 L1942.5 1328.5 L1944.5 1328.5 L1946.5 1328.5 L1948.5 1328.5 L1950.5 1328.5 L1952.5 1328.5 L1954.5 1328.5 L1956.5 1328.5 L1958.5 1328.5 L1960.5 1328.5 L1962.5 1328.5 L1964.5 1328.5 L1966.5 1328.5 L1968.5 1328.5 L1970.5 1328.5 L1972.5 1328.5 L1974.5 1328.5 L1976.5 1328.5 L1978.5 1328.5 L1980.5 1328.5 L1982.5 1328.5 L1984.5 1328.5 L1986.5 1328.5 L1988.5 1328.5 L1990.5 1328.5 L1992.5 1328.5 L1994.5 1328.5 L1996.5 1328.5 L1998.5 1328.5 L2000.5 1328.5 L2002.5 1328.5 L2004.5 1328.5 L2006.5 1328.5 L2008.5 1328.5 L2010.5 1328.5 L2012.5 1328.5 L2014.5 1328.5 L2016.5 1328.5 L2018.5 1328.5 L2020.5 1328.5 L2022.5 1328.5 L2024.5 1328.5 L2026.5 1328.5 L2028.5 1328.5" stroke="#FF0000"/>
<path d="M374.5 1324.4 L376.5 1324.3 L378.5 1324.3 L380.5 1324.2 L382.5 1324.1 L384.5 1324.0 L386.5 1324.0 L388.5 1323.9 L390.5 1323.8 L392.5 1323.7 L394.5 1323.6 L396.5 1323.6 L398.5 1323.5 L400.5 1323.4 L402.5 1323.3 L404.5 1323.2 L406.5 1323.1 L408.5 1323.0 L410.5 1322.9 L412.5 1322.9 L414.5 1322.8 L416.5 1322.7 L418.5 1322.6 L420.5 1322.5 L422.5 1322.4 L424.5 1322.3 L426.5 1322.1 L428.5 1322.0 L430.5 1321.9 L432.5 1321.8 L434.5 1321.7 L436.5 1321.6 L438.5 1321.5 L440.5 1321.4 L442.5 1321.2 L444.5 1321.1 L446.5 1321.0 L448.5 1320.9 L450.5 1320.8 L452.5 1320.6 L454.5 1320.5 L456.5 1320.4 L458.5 1320.2 L460.5 1320.1 L462.5 1319.9 L464.5 1319.8 L466.5 1319.7 L468.5 1319.5 L470.5 1319.4 L472.5 1319.2 L474.5 1319.1 L476.5 1318.9 L478.5 1318.8 L480.5 1318.6 L482.5 1318.4 L484.5 1318.3 L486.5 1318.1 L488.5 1317.9 L490.5 1317.8 L492.5 1317.6 L494.5 1317.4 L496.5 1317.3 L498.5 1317.1 L500.5 1316.9 L502.5 1316.7 L504.5 1316.5 L506.5 1316.3 L508.5 1316.1 L510.5 1315.9 L512.5 1315.7 L514.5 1315.5 L516.5 1315.3 L518.5 1315.1 L520.5 1314.9 L522.5 1314.7 L524.5 1314.5 L526.5 1314.3 L528.5 1314.1 L530.5 1313.9 L532.5 1313.6 L534.5 1313.4 L536.5 1313.2 L538.5 1312.9 L540.5 1312.7 L542.5 1312.5 L544.5 1312.2 L546.5 1312.0 L548.5 1311.7 L550.5 1311.5 L552.5 1311.2 L554.5 1311.0 L556.5 1310.7 L558.5 1310.5 L560.5 1310.2 L562.5 1309.9 L564.5 1309.7 L566.5 1309.4 L568.5 1309.1 L570.5 1308.8 L572.5 1308.6 L574.5 1308.3 L576.5 1308.0 L578.5 1307.7 L580.5 1307.4 L582.5 1307.1 L584.5 1306.8 L586.5 1306.5 L588.5 1306.2 L590.5 1305.9 L592.5 1305.6 L594.5 1305.3 L596.5 1305.0 L598.5 1304.7 L600.5 1304.3 L602.5 1304.0 L604.5 1303.7 L606.5 1303.4 L608.5 1303.1 L610.5 1302.7 L612.5 1302.4 L614.5 1302.1 L616.5 1301.7 L618.5 1301.4 L620.5 1301.1 L622.5 1300.7 L624.5 1300.4 L626.5 1300.0 L628.5 1299.7 L630.5 1299.4 L632.5 1299.0 L634.5 1298.7 L636.5 1298.3 L638.5 1298.0 L640.5 1297.6 L642.5 1297.3 L644.5 1296.9 L646.5 1296.6 L648.5 1296.2 L650.5 1295.9 L652.5 1295.5 L654.5 1295.2 L656.5 1294.8 L658.5 1294.5 L660.5 1294.1 L662.5 1293.8 L664.5 1293.4 L666.5 1293.1 L668.5 1292.7 L670.5 1292.4 L672.5 1292.0 L674.5 1291.7 L676.5 1291.3 L678.5 1291.0 L680.5 1290.7 L682.5 1290.3 L684.5 1290.0 L686.5 1289.7 L688.5 1289.4 L690.5 1289.0 L692.5 1288.7 L694.5 1288.4 L696.5 1288.1 L698.5 1287.8 L700.5 1287.5 L702.5 1287.2 L704.5 1286.9 L706.5 1286.6 L708.5 1286.3 L710.5 1286.0 L712.5 1285.8 L714.5 1285.5 L716.5 1285.2 L718.5 1285.0 L720.5 1284.7 L722.5 1284.5 L724.5 1284.3 L726.5 1284.0 L728.5 1283.8 L730.5 1283.6 L732.5 1283.4 L734.5 1283.2 L736.5 1283.0 L738.5 1282.8 L740.5 1282.6 L742.5 1282.5 L744.5 1282.3 L746.5 1282.2 L748.5 1282.0 L750.5 1281.9 L752.5 1281.8 L754.5 1281.6 L756.5 1281.5 L758.5 1281.4 L760.5 1281.4 L762.5 1281.3 L764.5 1281.2 L766.5 1281.2 L768.5 1281.1 L770.5 1281.1 L772.5 1281.0 L774.5 1281.0 L776.5 1281.0 L778.5 1281.0 L780.5 1281.0 L782.5 1281.0 L784.5 1281.0 L786.5 1281.1 L788.5 1281.1 L790.5 1281.1 L792.5 1281.2 L794.5 1281.3 L796.5 1281.3 L798.5 1281.4 L800.5 1281.5 L802.5 1281.6 L804.5 1281.7 L806.5 1281.8 L808.5 1281.9 L810.5 1282.0 L812.5 1282.1 L814.5 1282.2 L816.5 1282.3 L818.5 1282.4 L820.5 1282.6 L822.5 1282.7 L824.5 1282.8 L826.5 1283.0 L828.5 1283.1 L830.5 1283.2 L832.5 1283.3 L834.5 1283.5 L836.5 1283.6 L838.5 1283.7 L840.5 1283.8 L842.5 1283.9 L844.5 1284.0 L846.5 1284.1 L848.5 1284.2 L850.5 1284.3 L852.5 1284.4 L854.5 1284.5 L856.5 1284.5 L858.5 1284.6 L860.5 1284.6 L862.5 1284.6 L864.5 1284.6 L866.5 1284.6 L868.5 1284.6 L870.5 1284.6 L872.5 1284.5 L874.5 1284.4 L876.5 1284.4 L878.5 1284.3 L880.5 1284.1 L882.5 1284.0 L884.5 1283.9 L886.5 1283.7 L888.5 1283.5 L890.5 1283.3 L892.5 1283.0 L894.5 1282.8 L896.5 1282.5 L898.5 1282.2 L900.5 1281.8 L902.5 1281.5 L904.5 1281.1 L906.5 1280.7 L908.5 1280.3 L910.5 1279.8 L912.5 1279.3 L914.5 1278.8 L916.5 1278.3 L918.5 1277.8 L920.5 1277.2 L922.5 1276.6 L924.5 1275.9 L926.5 1275.3 L928.5 1274.6 L930.5 1273.9 L932.5 1273.2 L934.5 1272.4 L936.5 1271.6 L938.5 1270.8 L940.5 1270.0 L942.5 1269.1 L944.5 1268.2 L946.5 1267.3 L948.5 1266.4 L950.5 1265.4 L952.5 1264.4 L954.5 1263.4 L956.5 1262.3 L958.5 1261.3 L960.5 1260.2 L962.5 1259.1 L964.5 1257.9 L966.5 1256.8 L968.5 1255.6 L970.5 1254.3 L972.5 1253.1 L974.5 1251.8 L976.5 1250.5 L978.5 1249.2 L980.5 1247.9 L982.5 1246.5 L984.5 1245.1 L986.5 1243.7 L988.5 1242.2 L990.5 1240.8 L992.5 1239.2 L994.5 1237.7 L996.5 1236.2 L998.5 1234.6 L1000.5 1233.0 L1002.5 1231.3 L1004.5 1229.7 L1006.5 1228.0 L1008.5 1226.2 L1010.5 1224.5 L1012.5 1222.7 L1014.5 1220.9 L1016.5 1219.0 L1018.5 1217.2 L1020.5 1215.3 L1022.5 1213.3 L1024.5 1211.4 L1026.5 1209.4 L1028.5 1207.3 L1030.5 1205.3 L1032.5 1203.2 L1034.5 1201.0 L1036.5 1198.9 L1038.5 1196.7 L1040.5 1194.4 L1042.5 1192.1 L1044.5 1189.8 L1046.5 1187.5 L1048.5 1185.1 L1050.5 1182.7 L1052.5 1180.2 L1054.5 1177.7 L1056.5 1175.2 L1058.5 1172.6 L1060.5 1170.0 L1062.5 1167.3 L1064.5 1164.6 L1066.5 1161.8 L1068.5 1159.0 L1070.5 1156.2 L1072.5 1153.3 L1074.5 1150.4 L1076.5 1147.4 L1078.5 1144.4 L1080.5 1141.4 L1082.5 1138.3 L1084.5 1135.1 L1086.5 1131.9 L1088.5 1128.7 L1090.5 1125.4 L1092.5 1122.0 L1094.5 1118.6 L1096.5 1115.2 L1098.5 1111.7 L1100.5 1108.1 L1102.5 1104.5 L1104.5 1100.9 L1106.5 1097.1 L1108.5 1093.4 L1110.5 1089.6 L1112.5 1085.7 L1114.5 1081.8 L1116.5 1077.8 L1118.5 1073.7 L1120.5 1069.6 L1122.5 1065.5 L1124.5 1061.3 L1126.5 1057.0 L1128.5 1052.7 L1130.5 1048.3 L1132.5 1043.8 L1134.5 1039.3 L1136.5 1034.7 L1138.5 1030.1 L1140.5 1025.4 L1142.5 1020.6 L1144.5 1015.8 L1146.5 1010.9 L1148.5 1005.9 L1150.5 1000.9 L1152.5 995.8 L1154.5 990.7 L1156.5 985.5 L1158.5 980.2 L1160.5 974.8 L1162.5 969.4 L1164.5 964.0 L1166.5 958.4 L1168.5 952.8 L1170.5 947.1 L1172.5 941.4 L1174.5 935.6 L1176.5 929.7 L1178.5 923.7 L1180.5 917.7 L1182.5 911.6 L1184.5 905.5 L1186.5 899.3 L1188.5 893.0 L1190.5 886.6 L1192.5 880.2 L1194.5 873.7 L1196.5 867.2 L1198.5 860.6 L1200.5 853.9 L1202.5 847.2 L1204.5 840.3 L1206.5 833.5 L1208.5 826.5 L1210.5 819.5 L1212.5 812.5 L1214.5 805.3 L1216.5 798.1 L1218.5 790.9 L1220.5 783.6 L1222.5 776.2 L1224.5 768.8 L1226.5 761.3 L1228.5 753.8 L1230.5 746.2 L1232.5 738.6 L1234.5 730.9 L1236.5 723.2 L1238.5 715.4 L1240.5 707.6 L1242.5 699.7 L1244.5 691.8 L1246.5 683.8 L1248.5 675.8 L1250.5 667.8 L1252.5 659.8 L1254.5 651.7 L1256.5 643.5 L1258.5 635.4 L1260.5 627.2 L1262.5 619.1 L1264.5 610.9 L1266.5 602.6 L1268.5 594.4 L1270.5 586.2 L1272.5 577.9 L1274.5 569.7 L1276.5 561.4 L1278.5 553.2 L1280.5 545.0 L1282.5 536.8 L1284.5 528.6 L1286.5 520.4 L1288.5 512.3 L1290.5 504.1 L1292.5 496.1 L1294.5 488.0 L1296.5 480.0 L1298.5 472.1 L1300.5 464.2 L1302.5 456.4 L1304.5 448.6 L1306.5 440.9 L1308.5 433.3 L1310.5 425.8 L1312.5 418.3 L1314.5 411.0 L1316.5 403.7 L1318.5 396.6 L1320.5 389.5 L1322.5 382.6 L1324.5 375.8 L1326.5 369.2 L1328.5 362.6 L1330.5 356.3 L1332.5 350.0 L1334.5 344.0 L1336.5 338.1 L1338.5 332.4 L1340.5 326.8 L1342.5 321.5 L1344.5 316.3 L1346.5 311.4 L1348.5 306.6 L1350.5 302.1 L1352.5 297.8 L1354.5 293.7 L1356.5 289.9 L1358.5 286.3 L1360.5 282.9 L1362.5 279.9 L1364.5 277.1 L1366.5 274.5 L1368.5 272.3 L1370.5 270.3 L1372.5 268.6 L1374.5 267.3 L1376.5 266.2 L1378.5 265.5 L1380.5 265.1 L1382.5 265.0 L1384.5 265.3 L1386.5 265.9 L1388.5 266.8 L1390.5 268.1 L1392.5 269.7 L1394.5 271.7 L1396.5 274.1 L1398.5 276.8 L1400.5 280.0 L1402.5 283.4 L1404.5 287.3 L1406.5 291.6 L1408.5 296.2 L1410.5 301.2 L1412.5 306.6 L1414.5 312.4 L1416.5 318.6 L1418.5 325.2 L1420.5 332.2 L1422.5 339.5 L1424.5 347.3 L1426.5 355.4 L1428.5 363.9 L1430.5 372.8 L1432.5 382.0 L1434.5 391.6 L1436.5 401.6 L1438.5 412.0 L1440.5 422.7 L1442.5 433.7 L1444.5 445.1 L1446.5 456.8 L1448.5 468.8 L1450.5 481.2 L1452.5 493.8 L1454.5 506.8 L1456.5 520.0 L1458.5 533.5 L1460.5 547.2 L1462.5 561.2 L1464.5 575.4 L1466.5 589.9 L1468.5 604.5 L1470.5 619.3 L1472.5 634.3 L1474.5 649.5 L1476.5 664.8 L1478.5 680.2 L1480.5 695.8 L1482.5 711.4 L1484.5 727.1 L1486.5 742.8 L1488.5 758.6 L1490.5 774.4 L1492.5 790.2 L1494.5 806.0 L1496.5 821.8 L1498.5 837.5 L1500.5 853.1 L1502.5 868.7 L1504.5 884.1 L1506.5 899.4 L1508.5 914.6 L1510.5 929.7 L1512.5 944.5 L1514.5 959.2 L1516.5 973.7 L1518.5 987.9 L1520.5 1002.0 L1522.5 1015.7 L1524.5 1029.3 L1526.5 1042.5 L1528.5 1055.5 L1530.5 1068.2 L1532.5 1080.6 L1534.5 1092.7 L1536.5 1104.4 L1538.5 1115.9 L1540.5 1127.0 L1542.5 1137.7 L1544.5 1148.2 L1546.5 1158.2 L1548.5 1168.0 L1550.5 1177.4 L1552.5 1186.4 L1554.5 1195.1 L1556.5 1203.4 L1558.5 1211.4 L1560.5 1219.0 L1562.5 1226.3 L1564.5 1233.3 L1566.5 1239.9 L1568.5 1246.2 L1570.5 1252.2 L1572.5 1257.8 L1574.5 1263.2 L1576.5 1268.2 L1578.5 1273.0 L1580.5 1277.4 L1582.5 1281.6 L1584.5 1285.6 L1586.5 1289.2 L1588.5 1292.7 L1590.5 1295.9 L1592.5 1298.8 L1594.5 1301.6 L1596.5 1304.1 L1598.5 1306.5 L1600.5 1308.6 L1602.5 1310.6 L1604.5 1312.5 L1606.5 1314.1 L1608.5 1315.7 L1610.5 1317.1 L1612.5 1318.3 L1614.5 1319.5 L1616.5 1320.5 L1618.5 1321.4 L1620.5 1322.3 L1622.5 1323.0 L1624.5 1323.7 L1626.5 1324.3 L1628.5 1324.9 L1630.5 1325.3 L1632.5 1325.8 L1634.5 1326.1 L1636.5 1326.5 L1638.5 1326.7 L1640.5 1327.0 L1642.5 1327.2 L1644.5 1327.4 L1646.5 1327.6 L1648.5 1327.7 L1650.5 1327.8 L1652.5 1327.9 L1654.5 1328.0 L1656.5 1328.1 L1658.5 1328.2 L1660.5 1328.2 L1662.5 1328.3 L1664.5 1328.3 L1666.5 1328.4 L1668.5 1328.4 L1670.5 1328.4 L1672.5 1328.4 L1674.5 1328.4 L1676.5 1328.4 L1678.5 1328.5 L1680.5 1328.5 L1682.5 1328.5 L1684.5 1328.5 L1686.5 1328.5 L1688.5 1328.5 L1690.5 1328.5 L1692.5 1328.5 L1694.5 1328.5 L1696.5 1328.5 L1698.5 1328.5 L1700.5 1328.5 L1702.5 1328.5 L1704.5 1328.5 L1706.5 1328.5 L1708.5 1328.5 L1710.5 1328.5 L1712.5 1328.5 L1714.5 1328.5 L1716.5 1328.5 L1718.5 1328.5 L1720.5 1328.5 L1722.5 1328.5 L1724.5 1328.5 L1726.5 1328.5 L1728.5 1328.5 L1730.5 1328.5 L1732.5 1328.5 L1734.5 1328.5 L1736.5 1328.5 L1738.5 1328.5 L1740.5 1328.5 L1742.5 1328.5 L1744.5 1328.5 L1746.5 1328.5 L1748.5 1328.5 L1750.5 1328.5 L1752.5 1328.5 L1754.5 1328.5 L1756.5 1328.5 L1758.5 1328.5 L1760.5 1328.5 L1762.5 1328.5 L1764.5 1328.5 L1766.5 1328.5 L1768.5 1328.5 L1770.5 1328.5 L1772.5 1328.5 L1774.5 1328.5 L1776.5 1328.5 L1778.5 1328.5 L1780.5 1328.5 L1782.5 1328.5 L1784.5 1328.5 L1786.5 1328.5 L1788.5 1328.5 L1790.5 1328.5 L1792.5 1328.5 L1794.5 1328.5 L1796.5 1328.5 L1798.5 1328.5 L1800.5 1328.5 L1802.5 1328.5 L1804.5 1328.5 L1806.5 1328.5 L1808.5 1328.5 L1810.5 1328.5 L1812.5 1328.5 L1814.5 1328.5 L1816.5 1328.5 L1818.5 1328.5 L1820.5 1328.5 L1822.5 1328.5 L1824.5 1328.5 L1826.5 1328.5 L1828.5 1328.5 L1830.5 1328.5 L1832.5 1328.5 L1834.5 1328.5 L1836.5 1328.5 L1838.5 1328.5 L1840.5 1328.5 L1842.5 1328.5 L1844.5 1328.5 L1846.5 1328.5 L1848.5 1328.5 L1850.5 1328.5 L1852.5 1328.5 L1854.5 1328.5 L1856.5 1328.5 L1858.5 1328.5 L1860.5 1328.5 L1862.5 1328.5 L1864.5 1328.5 L1866.5 1328.5 L1868.5 1328.5 L1870.5 1328.5 L1872.5 1328.5 L1874.5 1328.5 L1876.5 1328.5 L1878.5 1328.5 L1880.5 1328.5 L1882.5 1328.5 L1884.5 1328.5 L1886.5 1328.5 L1888.5 1328.5 L1890.5 1328.5 L1892.5 1328.5 L1894.5 1328.5 L1896.5 1328.5 L1898.5 1328.5 L1900.5 1328.5 L1902.5 1328.5 L1904.5 1328.5 L1906.5 1328.5 L1908.5 1328.5 L1910.5 1328.5 L1912.5 1328.5 L1914.5 1328.5 L1916.5 1328.5 L1918.5 1328.5 L1920.5 1328.5 L1922.5 1328.5 L1924.5 1328.5 L1926.5 1328.5 L1928.5 1328.5 L1930.5 1328.5 L1932.5 1328.5 L1934.5 1328.5 L1936.5 1328.5 L1938.5 1328.5 L1940.5 1328.5 L1942.5 1328.5 L1944.5 1328.5 L1946.5 1328.5 L1948.5 1328.5 L1950.5 1328.5 L1952.5 1328.5 L1954.5 1328.5 L1956.5 1328.5 L1958.5 1328.5 L1960.5 1328.5 L1962.5 1328.5 L1964.5 1328.5 L1966.5 1328.5 L1968.5 1328.5 L1970.5 1328.5 L1972.5 1328.5 L1974.5 1328.5 L1976.5 1328.5 L1978.5 1328.5 L1980.5 1328.5 L1982.5 1328.5 L1984.5 1328.5 L1986.5 1328.5 L1988.5 1328.5 L1990.5 1328.5 L1992.5 1328.5 L1994.5 1328.5 L1996.5 1328.5 L1998.5 1328.5 L2000.5 1328.5 L2002.5 1328.5 L2004.5 1328.5 L2006.5 1328.5 L2008.5 1328.5 L2010.5 1328.5 L2012.5 1328.5 L2014.5 1328.5 L2016.5 1328.5 L2018.5 1328.5 L2020.5 1328.5 L2022.5 1328.5 L2024.5 1328.5 L2026.5 1328.5 L2028.5 1328.5" stroke="#0000FF"/>
<path d="M374.5 1328.7 L376.5 1328.7 L378.5 1328.7 L380.5 1328.7 L382.5 1328.7 L384.5 1328.7 L386.5 1328.7 L388.5 1328.7 L390.5 1328.7 L392.5 1328.7 L394.5 1328.7 L396.5 1328.7 L398.5 1328.7 L400.5 1328.7 L402.5 1328.7 L404.5 1328.7 L406.5 1328.8 L408.5 1328.8 L410.5 1328.8 L412.5 1328.8 L414.5 1328.8 L416.5 1328.8 L418.5 1328.8 L420.5 1328.8 L422.5 1328.8 L424.5 1328.8 L426.5 1328.8 L428.5 1328.8 L430.5 1328.8 L432.5 1328.8 L434.5 1328.8 L436.5 1328.8 L438.5 1328.8 L440.5 1328.8 L442.5 1328.8 L444.5 1328.8 L446.5 1328.9 L448.5 1328.9 L450.5 1328.9 L452.5 1328.9 L454.5 1328.9 L456.5 1328.9 L458.5 1328.9 L460.5 1328.9 L462.5 1328.9 L464.5 1328.9 L466.5 1328.9 L468.5 1328.9 L470.5 1328.9 L472.5 1328.9 L474.5 1328.9 L476.5 1328.9 L478.5 1329.0 L480.5 1329.0 L482.5 1329.0 L484.5 1329.0 L486.5 1329.0 L488.5 1329.0 L490.5 1329.0 L492.5 1329.0 L494.5 1329.0 L496.5 1329.0 L498.5 1329.0 L500.5 1329.0 L502.5 1329.0 L504.5 1329.0 L506.5 1329.1 L508.5 1329.1 L510.5 1329.1 L512.5 1329.1 L514.5 1329.1 L516.5 1329.1 L518.5 1329.1 L520.5 1329.1 L522.5 1329.1 L524.5 1329.1 L526.5 1329.1 L528.5 1329.2 L530.5 1329.2 L532.5 1329.2 L534.5 1329.2 L536.5 1329.2 L538.5 1329.2 L540.5 1329.2 L542.5 1329.2 L544.5 1329.2 L546.5 1329.2 L548.5 1329.2 L550.5 1329.3 L552.5 1329.3 L554.5 1329.3 L556.5 1329.3 L558.5 1329.3 L560.5 1329.3 L562.5 1329.3 L564.5 1329.3 L566.5 1329.3 L568.5 1329.3 L570.5 1329.4 L572.5 1329.4 L574.5 1329.4 L576.5 1329.4 L578.5 1329.4 L580.5 1329.4 L582.5 1329.4 L584.5 1329.4 L586.5 1329.4 L588.5 1329.5 L590.5 1329.5 L592.5 1329.5 L594.5 1329.5 L596.5 1329.5 L598.5 1329.5 L600.5 1329.5 L602.5 1329.5 L604.5 1329.5 L606.5 1329.5 L608.5 1329.6 L610.5 1329.6 L612.5 1329.6 L614.5 1329.6 L616.5 1329.6 L618.5 1329.6 L620.5 1329.6 L622.5 1329.6 L624.5 1329.6 L626.5 1329.6 L628.5 1329.7 L630.5 1329.7 L632.5 1329.7 L634.5 1329.7 L636.5 1329.7 L638.5 1329.7 L640.5 1329.7 L642.5 1329.7 L644.5 1329.7 L646.5 1329.7 L648.5 1329.7 L650.5 1329.7 L652.5 1329.7 L654.5 1329.7 L656.5 1329.7 L658.5 1329.7 L660.5 1329.8 L662.5 1329.8 L664.5 1329.8 L666.5 1329.8 L668.5 1329.8 L670.5 1329.8 L672.5 1329.8 L674.5 1329.8 L676.5 1329.8 L678.5 1329.8 L680.5 1329.8 L682.5 1329.8 L684.5 1329.8 L686.5 1329.7 L688.5 1329.7 L690.5 1329.7 L692.5 1329.7 L694.5 1329.7 L696.5 1329.7 L698.5 1329.7 L700.5 1329.7 L702.5 1329.7 L704.5 1329.7 L706.5 1329.6 L708.5 1329.6 L710.5 1329.6 L712.5 1329.6 L714.5 1329.6 L716.5 1329.6 L718.5 1329.5 L720.5 1329.5 L722.5 1329.5 L724.5 1329.5 L726.5 1329.4 L728.5 1329.4 L730.5 1329.4 L732.5 1329.3 L734.5 1329.3 L736.5 1329.3 L738.5 1329.2 L740.5 1329.2 L742.5 1329.2 L744.5 1329.1 L746.5 1329.1 L748.5 1329.0 L750.5 1329.0 L752.5 1328.9 L754.5 1328.9 L756.5 1328.8 L758.5 1328.7 L760.5 1328.7 L762.5 1328.6 L764.5 1328.6 L766.5 1328.5 L768.5 1328.4 L770.5 1328.3 L772.5 1328.3 L774.5 1328.2 L776.5 1328.1 L778.5 1328.0 L780.5 1327.9 L782.5 1327.9 L784.5 1327.8 L786.5 1327.7 L788.5 1327.6 L790.5 1327.5 L792.5 1327.4 L794.5 1327.3 L796.5 1327.2 L798.5 1327.0 L800.5 1326.9 L802.5 1326.8 L804.5 1326.7 L806.5 1326.6 L808.5 1326.4 L810.5 1326.3 L812.5 1326.2 L814.5 1326.0 L816.5 1325.9 L818.5 1325.8 L820.5 1325.6 L822.5 1325.5 L824.5 1325.3 L826.5 1325.1 L828.5 1325.0 L830.5 1324.8 L832.5 1324.6 L834.5 1324.5 L836.5 1324.3 L838.5 1324.1 L840.5 1323.9 L842.5 1323.7 L844.5 1323.6 L846.5 1323.4 L848.5 1323.2 L850.5 1323.0 L852.5 1322.8 L854.5 1322.6 L856.5 1322.3 L858.5 1322.1 L860.5 1321.9 L862.5 1321.7 L864.5 1321.5 L866.5 1321.2 L868.5 1321.0 L870.5 1320.8 L872.5 1320.5 L874.5 1320.3 L876.5 1320.1 L878.5 1319.8 L880.5 1319.6 L882.5 1319.3 L884.5 1319.0 L886.5 1318.8 L888.5 1318.5 L890.5 1318.3 L892.5 1318.0 L894.5 1317.7 L896.5 1317.4 L898.5 1317.1 L900.5 1316.9 L902.5 1316.6 L904.5 1316.3 L906.5 1316.0 L908.5 1315.7 L910.5 1315.4 L912.5 1315.1 L914.5 1314.8 L916.5 1314.5 L918.5 1314.2 L920.5 1313.8 L922.5 1313.5 L924.5 1313.2 L926.5 1312.9 L928.5 1312.5 L930.5 1312.2 L932.5 1311.8 L934.5 1311.5 L936.5 1311.1 L938.5 1310.8 L940.5 1310.4 L942.5 1310.1 L944.5 1309.7 L946.5 1309.3 L948.5 1309.0 L950.5 1308.6 L952.5 1308.2 L954.5 1307.8 L956.5 1307.4 L958.5 1307.0 L960.5 1306.6 L962.5 1306.2 L964.5 1305.8 L966.5 1305.3 L968.5 1304.9 L970.5 1304.5 L972.5 1304.0 L974.5 1303.6 L976.5 1303.1 L978.5 1302.7 L980.5 1302.2 L982.5 1301.7 L984.5 1301.2 L986.5 1300.7 L988.5 1300.2 L990.5 1299.7 L992.5 1299.2 L994.5 1298.7 L996.5 1298.1 L998.5 1297.6 L1000.5 1297.0 L1002.5 1296.5 L1004.5 1295.9 L1006.5 1295.3 L1008.5 1294.7 L1010.5 1294.1 L1012.5 1293.5 L1014.5 1292.9 L1016.5 1292.3 L1018.5 1291.6 L1020.5 1291.0 L1022.5 1290.3 L1024.5 1289.7 L1026.5 1289.0 L1028.5 1288.3 L1030.5 1287.6 L1032.5 1286.8 L1034.5 1286.1 L1036.5 1285.4 L1038.5 1284.6 L1040.5 1283.8 L1042.5 1283.1 L1044.5 1282.3 L1046.5 1281.4 L1048.5 1280.6 L1050.5 1279.8 L1052.5 1278.9 L1054.5 1278.0 L1056.5 1277.2 L1058.5 1276.3 L1060.5 1275.3 L1062.5 1274.4 L1064.5 1273.5 L1066.5 1272.5 L1068.5 1271.5 L1070.5 1270.5 L1072.5 1269.5 L1074.5 1268.5 L1076.5 1267.4 L1078.5 1266.4 L1080.5 1265.3 L1082.5 1264.2 L1084.5 1263.0 L1086.5 1261.9 L1088.5 1260.7 L1090.5 1259.6 L1092.5 1258.4 L1094.5 1257.1 L1096.5 1255.9 L1098.5 1254.6 L1100.5 1253.3 L1102.5 1252.0 L1104.5 1250.7 L1106.5 1249.4 L1108.5 1248.0 L1110.5 1246.6 L1112.5 1245.2 L1114.5 1243.7 L1116.5 1242.3 L1118.5 1240.8 L1120.5 1239.2 L1122.5 1237.7 L1124.5 1236.1 L1126.5 1234.5 L1128.5 1232.9 L1130.5 1231.3 L1132.5 1229.6 L1134.5 1227.9 L1136.5 1226.1 L1138.5 1224.4 L1140.5 1222.6 L1142.5 1220.8 L1144.5 1218.9 L1146.5 1217.0 L1148.5 1215.1 L1150.5 1213.2 L1152.5 1211.2 L1154.5 1209.2 L1156.5 1207.2 L1158.5 1205.1 L1160.5 1203.0 L1162.5 1200.8 L1164.5 1198.7 L1166.5 1196.4 L1168.5 1194.2 L1170.5 1191.9 L1172.5 1189.6 L1174.5 1187.2 L1176.5 1184.8 L1178.5 1182.4 L1180.5 1179.9 L1182.5 1177.4 L1184.5 1174.9 L1186.5 1172.3 L1188.5 1169.6 L1190.5 1167.0 L1192.5 1164.3 L1194.5 1161.5 L1196.5 1158.7 L1198.5 1155.8 L1200.5 1153.0 L1202.5 1150.0 L1204.5 1147.0 L1206.5 1144.0 L1208.5 1140.9 L1210.5 1137.8 L1212.5 1134.6 L1214.5 1131.4 L1216.5 1128.2 L1218.5 1124.9 L1220.5 1121.5 L1222.5 1118.1 L1224.5 1114.6 L1226.5 1111.1 L1228.5 1107.5 L1230.5 1103.9 L1232.5 1100.2 L1234.5 1096.5 L1236.5 1092.7 L1238.5 1088.8 L1240.5 1084.9 L1242.5 1081.0 L1244.5 1077.0 L1246.5 1072.9 L1248.5 1068.8 L1250.5 1064.6 L1252.5 1060.3 L1254.5 1056.0 L1256.5 1051.7 L1258.5 1047.2 L1260.5 1042.7 L1262.5 1038.2 L1264.5 1033.6 L1266.5 1028.9 L1268.5 1024.2 L1270.5 1019.4 L1272.5 1014.5 L1274.5 1009.5 L1276.5 1004.5 L1278.5 999.5 L1280.5 994.3 L1282.5 989.2 L1284.5 983.9 L1286.5 978.6 L1288.5 973.2 L1290.5 967.7 L1292.5 962.1 L1294.5 956.5 L1296.5 950.9 L1298.5 945.1 L1300.5 939.3 L1302.5 933.4 L1304.5 927.5 L1306.5 921.5 L1308.5 915.4 L1310.5 909.2 L1312.5 903.0 L1314.5 896.7 L1316.5 890.3 L1318.5 883.9 L1320.5 877.4 L1322.5 870.8 L1324.5 864.1 L1326.5 857.4 L1328.5 850.6 L1330.5 843.8 L1332.5 836.9 L1334.5 829.9 L1336.5 822.8 L1338.5 815.7 L1340.5 808.5 L1342.5 801.2 L1344.5 793.9 L1346.5 786.5 L1348.5 779.1 L1350.5 771.6 L1352.5 764.0 L1354.5 756.4 L1356.5 748.7 L1358.5 741.0 L1360.5 733.2 L1362.5 725.3 L1364.5 717.4 L1366.5 709.4 L1368.5 701.4 L1370.5 693.4 L1372.5 685.3 L1374.5 677.1 L1376.5 668.9 L1378.5 660.7 L1380.5 652.4 L1382.5 644.1 L1384.5 635.7 L1386.5 627.4 L1388.5 618.9 L1390.5 610.5 L1392.5 602.1 L1394.5 593.6 L1396.5 585.1 L1398.5 576.6 L1400.5 568.0 L1402.5 559.5 L1404.5 551.0 L1406.5 542.4 L1408.5 533.9 L1410.5 525.4 L1412.5 516.8 L1414.5 508.3 L1416.5 499.8 L1418.5 491.4 L1420.5 482.9 L1422.5 474.5 L1424.5 466.2 L1426.5 457.8 L1428.5 449.5 L1430.5 441.3 L1432.5 433.1 L1434.5 425.0 L1436.5 417.0 L1438.5 409.0 L1440.5 401.1 L1442.5 393.3 L1444.5 385.6 L1446.5 378.0 L1448.5 370.5 L1450.5 363.1 L1452.5 355.8 L1454.5 348.6 L1456.5 341.6 L1458.5 334.7 L1460.5 327.9 L1462.5 321.3 L1464.5 314.9 L1466.5 308.6 L1468.5 302.5 L1470.5 296.6 L1472.5 290.8 L1474.5 285.3 L1476.5 280.0 L1478.5 274.8 L1480.5 269.9 L1482.5 265.2 L1484.5 260.7 L1486.5 256.5 L1488.5 252.5 L1490.5 248.8 L1492.5 245.4 L1494.5 242.2 L1496.5 239.3 L1498.5 236.7 L1500.5 234.3 L1502.5 232.3 L1504.5 230.6 L1506.5 229.2 L1508.5 228.1 L1510.5 227.3 L1512.5 226.9 L1514.5 226.8 L1516.5 227.1 L1518.5 227.7 L1520.5 228.7 L1522.5 230.0 L1524.5 231.7 L1526.5 233.8 L1528.5 236.2 L1530.5 239.1 L1532.5 242.3 L1534.5 245.9 L1536.5 249.9 L1538.5 254.3 L1540.5 259.1 L1542.5 264.3 L1544.5 269.9 L1546.5 275.9 L1548.5 282.3 L1550.5 289.2 L1552.5 296.4 L1554.5 304.0 L1556.5 312.0 L1558.5 320.4 L1560.5 329.2 L1562.5 338.4 L1564.5 348.0 L1566.5 358.0 L1568.5 368.3 L1570.5 379.0 L1572.5 390.1 L1574.5 401.6 L1576.5 413.4 L1578.5 425.5 L1580.5 438.0 L1582.5 450.7 L1584.5 463.9 L1586.5 477.3 L1588.5 491.0 L1590.5 504.9 L1592.5 519.2 L1594.5 533.7 L1596.5 548.4 L1598.5 563.3 L1600.5 578.5 L1602.5 593.9 L1604.5 609.4 L1606.5 625.1 L1608.5 641.0 L1610.5 656.9 L1612.5 673.0 L1614.5 689.2 L1616.5 705.5 L1618.5 721.8 L1620.5 738.1 L1622.5 754.5 L1624.5 770.9 L1626.5 787.2 L1628.5 803.6 L1630.5 819.8 L1632.5 836.0 L1634.5 852.1 L1636.5 868.1 L1638.5 884.0 L1640.5 899.8 L1642.5 915.3 L1644.5 930.7 L1646.5 945.9 L1648.5 960.9 L1650.5 975.7 L1652.5 990.2 L1654.5 1004.5 L1656.5 1018.5 L1658.5 1032.3 L1660.5 1045.7 L1662.5 1058.8 L1664.5 1071.7 L1666.5 1084.2 L1668.5 1096.4 L1670.5 1108.2 L1672.5 1119.7 L1674.5 1130.9 L1676.5 1141.7 L1678.5 1152.1 L1680.5 1162.2 L1682.5 1171.9 L1684.5 1181.3 L1686.5 1190.3 L1688.5 1198.9 L1690.5 1207.2 L1692.5 1215.1 L1694.5 1222.6 L1696.5 1229.9 L1698.5 1236.7 L1700.5 1243.2 L1702.5 1249.4 L1704.5 1255.3 L1706.5 1260.8 L1708.5 1266.0 L1710.5 1271.0 L1712.5 1275.6 L1714.5 1280.0 L1716.5 1284.0 L1718.5 1287.8 L1720.5 1291.4 L1722.5 1294.7 L1724.5 1297.8 L1726.5 1300.6 L1728.5 1303.3 L1730.5 1305.7 L1732.5 1307.9 L1734.5 1310.0 L1736.5 1311.9 L1738.5 1313.6 L1740.5 1315.2 L1742.5 1316.6 L1744.5 1318.0 L1746.5 1319.1 L1748.5 1320.2 L1750.5 1321.2 L1752.5 1322.1 L1754.5 1322.8 L1756.5 1323.5 L1758.5 1324.2 L1760.5 1324.7 L1762.5 1325.2 L1764.5 1325.7 L1766.5 1326.0 L1768.5 1326.4 L1770.5 1326.7 L1772.5 1326.9 L1774.5 1327.2 L1776.5 1327.4 L1778.5 1327.5 L1780.5 1327.7 L1782.5 1327.8 L1784.5 1327.9 L1786.5 1328.0 L1788.5 1328.1 L1790.5 1328.2 L1792.5 1328.2 L1794.5 1328.3 L1796.5 1328.3 L1798.5 1328.3 L1800.5 1328.4 L1802.5 1328.4 L1804.5 1328.4 L1806.5 1328.4 L1808.5 1328.4 L1810.5 1328.5 L1812.5 1328.5 L1814.5 1328.5 L1816.5 1328.5 L1818.5 1328.5 L1820.5 1328.5 L1822.5 1328.5 L1824.5 1328.5 L1826.5 1328.5 L1828.5 1328.5 L1830.5 1328.5 L1832.5 1328.5 L1834.5 1328.5 L1836.5 1328.5 L1838.5 1328.5 L1840.5 1328.5 L1842.5 1328.5 L1844.5 1328.5 L1846.5 1328.5 L1848.5 1328.5 L1850.5 1328.5 L1852.5 1328.5 L1854.5 1328.5 L1856.5 1328.5 L1858.5 1328.5 L1860.5 1328.5 L1862.5 1328.5 L1864.5 1328.5 L1866.5 1328.5 L1868.5 1328.5 L1870.5 1328.5 L1872.5 1328.5 L1874.5 1328.5 L1876.5 1328.5 L1878.5 1328.5 L1880.5 1328.5 L1882.5 1328.5 L1884.5 1328.5 L1886.5 1328.5 L1888.5 1328.5 L1890.5 1328.5 L1892.5 1328.5 L1894.5 1328.5 L1896.5 1328.5 L1898.5 1328.5 L1900.5 1328.5 L1902.5 1328.5 L1904.5 1328.5 L1906.5 1328.5 L1908.5 1328.5 L1910.5 1328.5 L1912.5 1328.5 L1914.5 1328.5 L1916.5 1328.5 L1918.5 1328.5 L1920.5 1328.5 L1922.5 1328.5 L1924.5 1328.5 L1926.5 1328.5 L1928.5 1328.5 L1930.5 1328.5 L1932.5 1328.5 L1934.5 1328.5 L1936.5 1328.5 L1938.5 1328.5 L1940.5 1328.5 L1942.5 1328.5 L1944.5 1328.5 L1946.5 1328.5 L1948.5 1328.5 L1950.5 1328.5 L1952.5 1328.5 L1954.5 1328.5 L1956.5 1328.5 L1958.5 1328.5 L1960.5 1328.5 L1962.5 1328.5 L1964.5 1328.5 L1966.5 1328.5 L1968.5 1328.5 L1970.5 1328.5 L1972.5 1328.5 L1974.5 1328.5 L1976.5 1328.5 L1978.5 1328.5 L1980.5 1328.5 L1982.5 1328.5 L1984.5 1328.5 L1986.5 1328.5 L1988.5 1328.5 L1990.5 1328.5 L1992.5 1328.5 L1994.5 1328.5 L1996.5 1328.5 L1998.5 1328.5 L2000.5 1328.5 L2002.5 1328.5 L2004.5 1328.5 L2006.5 1328.5 L2008.5 1328.5 L2010.5 1328.5 L2012.5 1328.5 L2014.5 1328.5 L2016.5 1328.5 L2018.5 1328.5 L2020.5 1328.5 L2022.5 1328.5 L2024.5 1328.5 L2026.5 1328.5 L2028.5 1328.5" stroke="#000000"/>
</g>
<text class="tick" text-anchor="end" x="360" y="1354.8">0</text>
<text class="tick" text-anchor="end" x="360" y="1100.8">500</text>
<text class="tick" text-anchor="end" x="360" y="846.8">1000</text>
<text class="tick" text-anchor="end" x="360" y="592.8">1500</text>
<text class="tick" text-anchor="end" x="360" y="338.8">2000</text>
<text class="tick" text-anchor="end" x="360" y="84.8">2500</text>
<text class="tick" text-anchor="middle" transform="translate(510.0 1474.5) scale(0.990 1)">0.90</text>
<text class="tick" text-anchor="middle" transform="translate(726.3 1474.5) scale(0.990 1)">0.95</text>
<text class="tick" text-anchor="middle" transform="translate(942.7 1474.5) scale(0.965 1)">1.00</text>
<text class="tick" text-anchor="middle" transform="translate(1159.1 1474.5) scale(0.965 1)">1.05</text>
<text class="tick" text-anchor="middle" transform="translate(1375.4 1474.5) scale(0.965 1)">1.10</text>
<text class="tick" text-anchor="middle" transform="translate(1591.7 1474.5) scale(0.965 1)">1.15</text>
<text class="tick" text-anchor="middle" transform="translate(1808.1 1474.5) scale(0.965 1)">1.20</text>
<text class="tick" text-anchor="middle" transform="translate(2024.4 1474.5) scale(0.965 1)">1.25</text>
<line x1="467" y1="147.2" x2="635.5" y2="147.2" stroke="#F58A30" stroke-width="10" stroke-linecap="round"/>
<text class="leg" x="655" y="172.8" style="fill:#F58A30">EP</text>
<line x1="467" y1="241.2" x2="635.5" y2="241.2" stroke="#009200" stroke-width="10" stroke-linecap="round"/>
<text class="leg" x="655" y="266.8" style="fill:#009200">BFO/EP</text>
<line x1="467" y1="335.2" x2="635.5" y2="335.2" stroke="#FF0000" stroke-width="10" stroke-linecap="round"/>
<text class="leg" x="655" y="360.8" style="fill:#FF0000">BL5FO/EP</text>
<line x1="467" y1="429.2" x2="635.5" y2="429.2" stroke="#0000FF" stroke-width="10" stroke-linecap="round"/>
<text class="leg" x="655" y="454.8" style="fill:#0000FF">BF3CO/EP</text>
<line x1="467" y1="523.2" x2="635.5" y2="523.2" stroke="#000000" stroke-width="10" stroke-linecap="round"/>
<text class="leg" x="655" y="548.8" style="fill:#000000">BL5FC3O/EP</text>
<text id="xt" x="674.2" y="1620.3" style="font-size:93.8px">Depth of electron traps (eV)</text>
<g transform="translate(127.5 1163) rotate(-90)">
<text id="yt" x="-1.9" y="0" style="font-size:93px">Intensity</text>
<text x="349.1" y="0" style="font-size:156px">(</text>
<text x="398.5" y="-1.5" style="font-size:93px">10</text>
<text x="492.4" y="-40" style="font-size:88px">30</text>
<text x="580.6" y="0" style="font-size:93px">eV</text>
<text transform="translate(690 -41) scale(0.86 1)" style="font-size:88px">−</text>
<text x="731" y="-40" style="font-size:88px">1</text>
<text x="778" y="0" style="font-size:93px">m</text>
<text transform="translate(850.2 -41) scale(0.86 1)" style="font-size:88px">−</text>
<text x="894" y="-40" style="font-size:88px">3</text>
<text x="938.6" y="0" style="font-size:156px">)</text>
</g>
</g></svg></body></html>
